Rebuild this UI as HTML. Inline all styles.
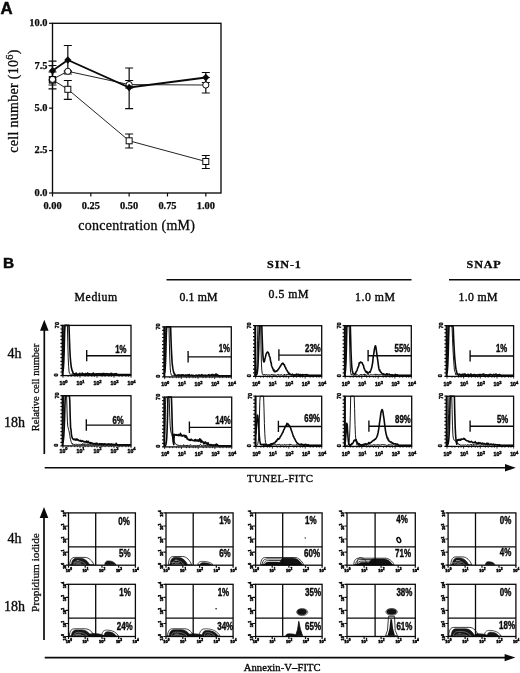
<!DOCTYPE html>
<html><head><meta charset="utf-8"><title>Figure</title>
<style>
html,body{margin:0;padding:0;background:#fff;}
svg{display:block;filter:blur(0.35px);}
text{fill:#0a0a0a;}
</style></head><body>
<svg width="520" height="673" viewBox="0 0 520 673">
<rect width="520" height="673" fill="#fff"/>
<g id="panelA">
<text x="0.6" y="13.5" font-family='"Liberation Sans", sans-serif' font-weight="bold" font-size="16.8" stroke="#0a0a0a" stroke-width="0.5">A</text>
<rect x="52.5" y="23.3" width="168.5" height="169.7" fill="none" stroke="#0a0a0a" stroke-width="1.35"/>
<line x1="49.0" y1="193.0" x2="52.5" y2="193.0" stroke="#0a0a0a" stroke-width="1.2"/>
<text x="47.5" y="195.9" text-anchor="end" font-family='"Liberation Serif", serif' font-weight="bold" font-size="10.4" stroke="#0a0a0a" stroke-width="0.25">0.0</text>
<line x1="49.0" y1="150.575" x2="52.5" y2="150.575" stroke="#0a0a0a" stroke-width="1.2"/>
<text x="47.5" y="153.475" text-anchor="end" font-family='"Liberation Serif", serif' font-weight="bold" font-size="10.4" stroke="#0a0a0a" stroke-width="0.25">2.5</text>
<line x1="49.0" y1="108.15" x2="52.5" y2="108.15" stroke="#0a0a0a" stroke-width="1.2"/>
<text x="47.5" y="111.05000000000001" text-anchor="end" font-family='"Liberation Serif", serif' font-weight="bold" font-size="10.4" stroke="#0a0a0a" stroke-width="0.25">5.0</text>
<line x1="49.0" y1="65.72500000000001" x2="52.5" y2="65.72500000000001" stroke="#0a0a0a" stroke-width="1.2"/>
<text x="47.5" y="68.62500000000001" text-anchor="end" font-family='"Liberation Serif", serif' font-weight="bold" font-size="10.4" stroke="#0a0a0a" stroke-width="0.25">7.5</text>
<line x1="49.0" y1="23.30000000000001" x2="52.5" y2="23.30000000000001" stroke="#0a0a0a" stroke-width="1.2"/>
<text x="47.5" y="26.20000000000001" text-anchor="end" font-family='"Liberation Serif", serif' font-weight="bold" font-size="10.4" stroke="#0a0a0a" stroke-width="0.25">10.0</text>
<line x1="52.5" y1="193" x2="52.5" y2="196.5" stroke="#0a0a0a" stroke-width="1.2"/>
<text x="52.5" y="209.4" text-anchor="middle" font-family='"Liberation Serif", serif' font-weight="bold" font-size="10.4" stroke="#0a0a0a" stroke-width="0.25">0.00</text>
<line x1="90.825" y1="193" x2="90.825" y2="196.5" stroke="#0a0a0a" stroke-width="1.2"/>
<text x="90.825" y="209.4" text-anchor="middle" font-family='"Liberation Serif", serif' font-weight="bold" font-size="10.4" stroke="#0a0a0a" stroke-width="0.25">0.25</text>
<line x1="129.15" y1="193" x2="129.15" y2="196.5" stroke="#0a0a0a" stroke-width="1.2"/>
<text x="129.15" y="209.4" text-anchor="middle" font-family='"Liberation Serif", serif' font-weight="bold" font-size="10.4" stroke="#0a0a0a" stroke-width="0.25">0.50</text>
<line x1="167.47500000000002" y1="193" x2="167.47500000000002" y2="196.5" stroke="#0a0a0a" stroke-width="1.2"/>
<text x="167.47500000000002" y="209.4" text-anchor="middle" font-family='"Liberation Serif", serif' font-weight="bold" font-size="10.4" stroke="#0a0a0a" stroke-width="0.25">0.75</text>
<line x1="205.8" y1="193" x2="205.8" y2="196.5" stroke="#0a0a0a" stroke-width="1.2"/>
<text x="205.8" y="209.4" text-anchor="middle" font-family='"Liberation Serif", serif' font-weight="bold" font-size="10.4" stroke="#0a0a0a" stroke-width="0.25">1.00</text>
<text x="136.8" y="230.2" text-anchor="middle" font-family='"Liberation Serif", serif' font-size="14" letter-spacing="0.25" stroke="#0a0a0a" stroke-width="0.3">concentration (mM)</text>
<text transform="translate(18.2,101) rotate(-90)" text-anchor="middle" font-family='"Liberation Serif", serif' font-size="14" letter-spacing="0.3" stroke="#0a0a0a" stroke-width="0.3">cell number (10<tspan dy="-5.5" font-size="10.4">6</tspan><tspan dy="5.5">)</tspan></text>
<path d="M52.5 61.2V80M48.5 61.2H56.5M48.5 80H56.5" stroke="#0a0a0a" stroke-width="1.2" fill="none"/>
<path d="M67.83 45.5V74M63.83 45.5H71.83M63.83 74H71.83" stroke="#0a0a0a" stroke-width="1.2" fill="none"/>
<path d="M129.15 68V108.7M125.15 68H133.15M125.15 108.7H133.15" stroke="#0a0a0a" stroke-width="1.2" fill="none"/>
<path d="M205.8 72.5V82.5M201.8 72.5H209.8M201.8 82.5H209.8" stroke="#0a0a0a" stroke-width="1.2" fill="none"/>
<path d="M52.5 65.5V88.8M48.5 65.5H56.5M48.5 88.8H56.5" stroke="#0a0a0a" stroke-width="1.2" fill="none"/>
<path d="M67.83 70.8V71.8M63.83 70.8H71.83M63.83 71.8H71.83" stroke="#0a0a0a" stroke-width="1.2" fill="none"/>
<path d="M129.15 80.5V88M125.15 80.5H133.15M125.15 88H133.15" stroke="#0a0a0a" stroke-width="1.2" fill="none"/>
<path d="M205.8 77.5V93M201.8 77.5H209.8M201.8 93H209.8" stroke="#0a0a0a" stroke-width="1.2" fill="none"/>
<path d="M52.5 72V85M48.5 72H56.5M48.5 85H56.5" stroke="#0a0a0a" stroke-width="1.2" fill="none"/>
<path d="M67.83 80.5V99.3M63.83 80.5H71.83M63.83 99.3H71.83" stroke="#0a0a0a" stroke-width="1.2" fill="none"/>
<path d="M129.15 134V148M125.15 134H133.15M125.15 148H133.15" stroke="#0a0a0a" stroke-width="1.2" fill="none"/>
<path d="M205.8 155.5V168.5M201.8 155.5H209.8M201.8 168.5H209.8" stroke="#0a0a0a" stroke-width="1.2" fill="none"/>
<path d="M52.5 79.8 L67.8 89.3 L129.2 140.8 L205.8 161.5" fill="none" stroke="#0a0a0a" stroke-width="0.9"/>
<path d="M52.5 79.3 L67.8 71.3 L129.2 84.6 L205.8 85" fill="none" stroke="#0a0a0a" stroke-width="0.9"/>
<path d="M52.5 70.8 L67.8 60 L129.2 87.5 L205.8 77.5" fill="none" stroke="#0a0a0a" stroke-width="1.9"/>
<rect x="49.5" y="76.8" width="6" height="6" fill="#fff" stroke="#0a0a0a" stroke-width="1"/>
<rect x="64.83" y="86.3" width="6" height="6" fill="#fff" stroke="#0a0a0a" stroke-width="1"/>
<rect x="126.15" y="137.8" width="6" height="6" fill="#fff" stroke="#0a0a0a" stroke-width="1"/>
<rect x="202.8" y="158.5" width="6" height="6" fill="#fff" stroke="#0a0a0a" stroke-width="1"/>
<circle cx="52.5" cy="79.3" r="3.1" fill="#fff" stroke="#0a0a0a" stroke-width="1"/>
<circle cx="67.83" cy="71.3" r="3.1" fill="#fff" stroke="#0a0a0a" stroke-width="1"/>
<circle cx="129.15" cy="84.6" r="3.1" fill="#fff" stroke="#0a0a0a" stroke-width="1"/>
<circle cx="205.8" cy="85" r="3.1" fill="#fff" stroke="#0a0a0a" stroke-width="1"/>
<rect x="49.3" y="76.6" width="6.4" height="6.4" fill="none" stroke="#0a0a0a" stroke-width="1"/>
<path d="M48.9 70.8L52.5 67.0L56.1 70.8L52.5 74.6Z" fill="#0a0a0a"/>
<path d="M64.23 60L67.83 56.2L71.42999999999999 60L67.83 63.8Z" fill="#0a0a0a"/>
<path d="M125.55000000000001 87.5L129.15 83.7L132.75 87.5L129.15 91.3Z" fill="#0a0a0a"/>
<path d="M202.20000000000002 77.5L205.8 73.7L209.4 77.5L205.8 81.3Z" fill="#0a0a0a"/>
</g>
<text x="3.0" y="268" font-family='"Liberation Sans", sans-serif' font-weight="bold" font-size="15.4" stroke="#0a0a0a" stroke-width="0.5">B</text>
<text x="267" y="267.8" textLength="34.8" lengthAdjust="spacingAndGlyphs" font-family='"Liberation Serif", serif' font-weight="bold" font-size="10.8" letter-spacing="0.8" stroke="#0a0a0a" stroke-width="0.3">SIN-1</text>
<text x="466.6" y="267.8" textLength="35" lengthAdjust="spacingAndGlyphs" font-family='"Liberation Serif", serif' font-weight="bold" font-size="10.8" letter-spacing="0.8" stroke="#0a0a0a" stroke-width="0.3">SNAP</text>
<line x1="166.5" y1="279.8" x2="411.5" y2="279.8" stroke="#0a0a0a" stroke-width="1.6"/>
<line x1="449" y1="279.8" x2="520" y2="279.8" stroke="#0a0a0a" stroke-width="1.6"/>
<text x="74.6" y="301.4" textLength="42.6" lengthAdjust="spacing" font-family='"Liberation Serif", serif' font-size="11.8" stroke="#0a0a0a" stroke-width="0.38">Medium</text>
<text x="179.4" y="301.4" textLength="38.1" lengthAdjust="spacing" font-family='"Liberation Serif", serif' font-size="11.8" stroke="#0a0a0a" stroke-width="0.38">0.1 mM</text>
<text x="268.5" y="297.8" textLength="40" lengthAdjust="spacing" font-family='"Liberation Serif", serif' font-size="11.8" stroke="#0a0a0a" stroke-width="0.38">0.5 mM</text>
<text x="355" y="301.4" textLength="40" lengthAdjust="spacing" font-family='"Liberation Serif", serif' font-size="11.8" stroke="#0a0a0a" stroke-width="0.38">1.0 mM</text>
<text x="458.5" y="301.4" textLength="39" lengthAdjust="spacing" font-family='"Liberation Serif", serif' font-size="11.8" stroke="#0a0a0a" stroke-width="0.38">1.0 mM</text>
<text x="21.4" y="358.0" text-anchor="end" font-family='"Liberation Serif", serif' font-size="14" stroke="#0a0a0a" stroke-width="0.35">4h</text>
<text x="25.0" y="426.6" text-anchor="end" font-family='"Liberation Serif", serif' font-size="14" stroke="#0a0a0a" stroke-width="0.35">18h</text>
<text x="21.4" y="543" text-anchor="end" font-family='"Liberation Serif", serif' font-size="14" stroke="#0a0a0a" stroke-width="0.35">4h</text>
<text x="25.0" y="610.7" text-anchor="end" font-family='"Liberation Serif", serif' font-size="14" stroke="#0a0a0a" stroke-width="0.35">18h</text>
<text transform="translate(39.3,387.5) rotate(-90)" text-anchor="middle" font-family='"Liberation Serif", serif' font-size="10.5" stroke="#0a0a0a" stroke-width="0.3">Relative cell number</text>
<text transform="translate(39,572.5) rotate(-90)" text-anchor="middle" font-family='"Liberation Serif", serif' font-size="11.3" stroke="#0a0a0a" stroke-width="0.3">Propidium iodide</text>
<line x1="44.3" y1="454" x2="44.3" y2="325.8" stroke="#0a0a0a" stroke-width="1.7"/>
<path d="M44.3 319.8L40.0 330.8L48.599999999999994 330.8Z" fill="#0a0a0a"/>
<line x1="44.0" y1="640" x2="44.0" y2="513" stroke="#0a0a0a" stroke-width="1.7"/>
<path d="M44.0 507L39.7 518L48.3 518Z" fill="#0a0a0a"/>
<line x1="44.7" y1="467.8" x2="509.79999999999995" y2="467.8" stroke="#0a0a0a" stroke-width="1.6"/>
<path d="M515.8 467.8L504.99999999999994 464.1L504.99999999999994 471.5Z" fill="#0a0a0a"/>
<line x1="44.7" y1="657.6" x2="509.4" y2="657.6" stroke="#0a0a0a" stroke-width="1.6"/>
<path d="M515.4 657.6L504.59999999999997 653.9L504.59999999999997 661.3000000000001Z" fill="#0a0a0a"/>
<text x="247" y="482.4" textLength="66" lengthAdjust="spacing" font-family='"Liberation Serif", serif' font-size="10.8" stroke="#0a0a0a" stroke-width="0.35">TUNEL-FITC</text>
<text x="243.7" y="671" textLength="77" lengthAdjust="spacing" font-family='"Liberation Serif", serif' font-size="10.6" stroke="#0a0a0a" stroke-width="0.35">Annexin-V–FITC</text>
<path d="M63.0 363.8 L63.4 352.5 L63.8 334.4 L64.2 325.4 L64.6 325.4 L65.0 325.4 L65.4 325.4 L65.8 325.4 L66.2 325.4 L66.6 325.4 L67.0 325.4 L67.4 325.4 L67.8 342.6 L68.2 357.6 L68.6 366.4 L69.0 371.2 L69.4 373.2 L69.8 373.6 L70.2 374.4 L70.6 373.9 L71.0 374.3 L71.4 374.0 L71.8 374.5 L72.2 374.4 L72.6 374.5 L73.0 373.6 L73.4 374.1 L73.8 374.3 L74.2 374.3 L74.6 373.6 L75.0 373.6 L75.4 374.1 L75.8 374.3 L76.2 374.4 L76.6 374.6 L77.0 374.3 L77.4 374.2 L77.8 374.4 L78.2 374.4 L78.6 374.2 L79.0 373.6 L79.4 374.3 L79.8 373.9 L80.2 374.2 L80.6 374.2 L81.0 374.4 L81.4 374.5 L81.8 374.2 L82.2 374.5 L82.6 374.3 L83.0 374.0 L83.4 374.3 L83.8 373.9 L84.2 374.1 L84.6 374.5 L85.0 374.3 L85.4 373.7 L85.8 374.6 L86.2 373.8 L86.6 373.4 L87.0 374.4 L87.4 374.5 L87.8 374.1 L88.2 374.3 L88.6 374.6 L89.0 373.7 L89.4 374.1 L89.8 374.2 L90.2 374.0 L90.6 373.7 L91.0 374.4 L91.4 374.5 L91.8 373.8 L92.2 374.2 L92.6 374.2 L93.0 374.3 L93.4 373.9 L93.8 374.0 L94.2 374.3 L94.6 373.8 L95.0 373.4 L95.4 373.7 L95.8 374.5 L96.2 373.7 L96.6 374.3 L97.0 373.5 L97.4 373.1 L97.8 374.4 L98.2 374.2 L98.6 373.9 L99.0 374.0 L99.4 373.9 L99.8 374.5 L100.2 374.5 L100.6 374.3 L101.0 373.7 L101.4 374.2 L101.8 374.3 L102.2 374.3 L102.6 373.7 L103.0 373.8 L103.4 374.0 L103.8 374.3 L104.2 373.4 L104.6 374.2 L105.0 374.1 L105.4 373.5 L105.8 374.5 L106.2 374.0 L106.6 373.8 L107.0 373.6 L107.4 374.3 L107.8 374.5 L108.2 374.4 L108.6 374.2 L109.0 374.5 L109.4 373.9 L109.8 374.2 L110.2 374.4 L110.6 374.0 L111.0 374.6 L111.4 374.1 L111.8 374.0 L112.2 373.7 L112.6 374.3 L113.0 373.8 L113.4 374.5 L113.8 374.5 L114.2 374.4 L114.6 373.8 L115.0 374.0 L115.4 373.9 L115.8 373.9 L116.2 374.1 L116.6 374.2 L117.0 373.9 L117.4 374.6 L117.8 374.6 L118.2 374.6 L118.6 374.6 L119.0 374.6 L119.4 374.6 L119.8 374.6 L120.2 374.6 L120.6 374.6 L121.0 374.6 L121.4 374.6 L121.8 374.6 L122.2 374.6 L122.6 374.6 L123.0 374.6 L123.4 374.6 L123.8 374.6 L124.2 374.6 L124.6 374.6 L125.0 374.6 L125.4 374.6 L125.8 374.6 L126.2 374.6 L126.6 374.6 L127.0 374.6 L127.4 374.6 L127.8 374.6 L128.2 374.6 L128.6 374.6 L129.0 374.6 L129.4 374.6 L129.8 374.6 L130.2 374.6 L130.6 374.6 L131.0 374.6" fill="none" stroke="#0a0a0a" stroke-width="0.95"/>
<path d="M63.0 371.5 L63.4 368.1 L63.8 361.6 L64.2 350.4 L64.6 332.9 L65.0 325.4 L65.4 325.4 L65.8 325.4 L66.2 325.4 L66.6 325.4 L67.0 325.4 L67.4 325.4 L67.8 325.4 L68.2 325.4 L68.6 325.4 L69.0 325.4 L69.4 337.7 L69.8 348.6 L70.2 356.3 L70.6 361.3 L71.0 364.8 L71.4 367.8 L71.8 369.3 L72.2 371.0 L72.6 371.2 L73.0 373.0 L73.4 373.5 L73.8 373.9 L74.2 374.3 L74.6 373.9 L75.0 374.3 L75.4 374.3 L75.8 373.5 L76.2 373.1 L76.6 373.9 L77.0 374.5 L77.4 374.4 L77.8 374.5 L78.2 374.3 L78.6 374.2 L79.0 374.4 L79.4 374.3 L79.8 373.2 L80.2 374.4 L80.6 374.3 L81.0 374.5 L81.4 374.5 L81.8 374.6 L82.2 373.0 L82.6 374.3 L83.0 374.0 L83.4 373.9 L83.8 374.6 L84.2 374.0 L84.6 374.1 L85.0 373.7 L85.4 373.6 L85.8 374.4 L86.2 374.4 L86.6 374.2 L87.0 374.0 L87.4 373.0 L87.8 374.0 L88.2 373.7 L88.6 374.2 L89.0 373.7 L89.4 374.5 L89.8 373.9 L90.2 374.5 L90.6 374.5 L91.0 374.1 L91.4 374.5 L91.8 374.5 L92.2 373.7 L92.6 374.0 L93.0 374.4 L93.4 373.0 L93.8 373.9 L94.2 374.1 L94.6 374.4 L95.0 374.5 L95.4 374.2 L95.8 374.5 L96.2 374.2 L96.6 373.7 L97.0 373.7 L97.4 374.2 L97.8 374.0 L98.2 374.0 L98.6 373.7 L99.0 373.9 L99.4 374.2 L99.8 373.7 L100.2 374.0 L100.6 374.6 L101.0 373.9 L101.4 374.1 L101.8 373.7 L102.2 374.1 L102.6 373.7 L103.0 374.0 L103.4 374.5 L103.8 373.4 L104.2 373.8 L104.6 374.5 L105.0 374.2 L105.4 374.4 L105.8 374.4 L106.2 373.7 L106.6 374.0 L107.0 373.9 L107.4 373.7 L107.8 373.7 L108.2 374.5 L108.6 374.2 L109.0 374.0 L109.4 374.5 L109.8 374.5 L110.2 373.8 L110.6 374.4 L111.0 373.2 L111.4 374.4 L111.8 373.5 L112.2 374.1 L112.6 374.4 L113.0 374.2 L113.4 374.6 L113.8 374.1 L114.2 374.6 L114.6 373.8 L115.0 374.6 L115.4 374.0 L115.8 373.7 L116.2 373.6 L116.6 374.2 L117.0 374.1 L117.4 374.6 L117.8 374.6 L118.2 374.6 L118.6 374.6 L119.0 374.6 L119.4 374.6 L119.8 374.6 L120.2 374.6 L120.6 374.6 L121.0 374.6 L121.4 374.6 L121.8 374.6 L122.2 374.6 L122.6 374.6 L123.0 374.6 L123.4 374.6 L123.8 374.6 L124.2 374.6 L124.6 374.6 L125.0 374.6 L125.4 374.6 L125.8 374.6 L126.2 374.6 L126.6 374.6 L127.0 374.6 L127.4 374.6 L127.8 374.6 L128.2 374.6 L128.6 374.6 L129.0 374.6 L129.4 374.6 L129.8 374.6 L130.2 374.6 L130.6 374.6 L131.0 374.6" fill="none" stroke="#0a0a0a" stroke-width="1.6" stroke-linejoin="round"/>
<rect x="63" y="325.4" width="68.0" height="50.2" fill="none" stroke="#0a0a0a" stroke-width="1.3"/>
<line x1="62.4" y1="325.4" x2="62.4" y2="375.6" stroke="#0a0a0a" stroke-width="1.6"/>
<path d="M60.4 325.4H63M60.4 329.0H63M60.4 332.6H63M60.4 336.2H63M60.4 339.7H63M60.4 343.3H63M60.4 346.9H63M60.4 350.5H63M60.4 354.1H63M60.4 357.7H63M60.4 361.3H63M60.4 364.8H63M60.4 368.4H63M60.4 372.0H63M60.4 375.6H63" stroke="#0a0a0a" stroke-width="1.2"/>
<text transform="translate(58.6,328.2) rotate(-90)" font-family='"Liberation Sans", sans-serif' font-weight="bold" font-size="5.6" stroke="#0a0a0a" stroke-width="0.45">70</text>
<text transform="translate(58.4,376.4) rotate(-90)" font-family='"Liberation Sans", sans-serif' font-weight="bold" font-size="5.6" stroke="#0a0a0a" stroke-width="0.45">0</text>
<text x="63.6" y="385.0" text-anchor="middle" font-family='"Liberation Sans", sans-serif' font-weight="bold" font-size="5.2" stroke="#0a0a0a" stroke-width="0.45">10<tspan dy="-2.3" font-size="4">0</tspan></text>
<text x="80.6" y="385.0" text-anchor="middle" font-family='"Liberation Sans", sans-serif' font-weight="bold" font-size="5.2" stroke="#0a0a0a" stroke-width="0.45">10<tspan dy="-2.3" font-size="4">1</tspan></text>
<text x="97.6" y="385.0" text-anchor="middle" font-family='"Liberation Sans", sans-serif' font-weight="bold" font-size="5.2" stroke="#0a0a0a" stroke-width="0.45">10<tspan dy="-2.3" font-size="4">2</tspan></text>
<text x="114.6" y="385.0" text-anchor="middle" font-family='"Liberation Sans", sans-serif' font-weight="bold" font-size="5.2" stroke="#0a0a0a" stroke-width="0.45">10<tspan dy="-2.3" font-size="4">3</tspan></text>
<text x="131.6" y="385.0" text-anchor="middle" font-family='"Liberation Sans", sans-serif' font-weight="bold" font-size="5.2" stroke="#0a0a0a" stroke-width="0.45">10<tspan dy="-2.3" font-size="4">4</tspan></text>
<path d="M63.0 375.6V377.8M68.1 375.6V376.9M71.1 375.6V376.9M74.9 375.6V376.9M77.4 375.6V376.9M80.0 375.6V377.8M85.1 375.6V376.9M88.1 375.6V376.9M91.9 375.6V376.9M94.4 375.6V376.9M97.0 375.6V377.8M102.1 375.6V376.9M105.1 375.6V376.9M108.9 375.6V376.9M111.4 375.6V376.9M114.0 375.6V377.8M119.1 375.6V376.9M122.1 375.6V376.9M125.9 375.6V376.9M128.4 375.6V376.9M131.0 375.6V377.8" stroke="#0a0a0a" stroke-width="0.8"/>
<path d="M86.7 349.9V361.3M86.7 355.7H131" stroke="#0a0a0a" stroke-width="1.35" fill="none"/>
<text transform="translate(126.4,352.7) scale(0.78,1)" text-anchor="end" font-family='"Liberation Sans", sans-serif' font-weight="bold" font-size="10" stroke="#0a0a0a" stroke-width="0.4">1%</text>
<path d="M63.0 424.8 L63.4 404.1 L63.8 395.7 L64.2 395.7 L64.6 395.7 L65.0 395.7 L65.4 395.7 L65.8 395.7 L66.2 395.7 L66.6 395.7 L67.0 409.6 L67.4 421.2 L67.8 426.6 L68.2 427.8 L68.6 429.8 L69.0 430.8 L69.4 433.2 L69.8 435.2 L70.2 438.0 L70.6 439.8 L71.0 441.4 L71.4 442.3 L71.8 443.4 L72.2 443.0 L72.6 444.4 L73.0 444.4 L73.4 444.2 L73.8 444.7 L74.2 444.1 L74.6 444.6 L75.0 444.3 L75.4 443.9 L75.8 444.5 L76.2 444.3 L76.6 444.4 L77.0 444.9 L77.4 444.4 L77.8 444.8 L78.2 444.2 L78.6 444.0 L79.0 444.5 L79.4 444.4 L79.8 444.6 L80.2 444.4 L80.6 444.4 L81.0 444.0 L81.4 444.8 L81.8 444.2 L82.2 444.7 L82.6 443.5 L83.0 444.7 L83.4 444.5 L83.8 443.8 L84.2 444.5 L84.6 444.7 L85.0 443.6 L85.4 444.4 L85.8 444.7 L86.2 444.6 L86.6 444.4 L87.0 444.5 L87.4 444.5 L87.8 444.7 L88.2 444.1 L88.6 444.5 L89.0 444.6 L89.4 443.7 L89.8 444.4 L90.2 444.1 L90.6 444.7 L91.0 444.6 L91.4 443.8 L91.8 443.9 L92.2 444.6 L92.6 443.5 L93.0 444.4 L93.4 444.5 L93.8 443.8 L94.2 444.8 L94.6 444.6 L95.0 444.4 L95.4 444.4 L95.8 444.8 L96.2 444.7 L96.6 444.4 L97.0 444.9 L97.4 444.8 L97.8 444.3 L98.2 444.7 L98.6 444.4 L99.0 444.8 L99.4 444.4 L99.8 444.4 L100.2 443.3 L100.6 444.2 L101.0 444.5 L101.4 443.4 L101.8 444.5 L102.2 444.6 L102.6 443.9 L103.0 444.6 L103.4 444.9 L103.8 444.6 L104.2 443.8 L104.6 444.3 L105.0 444.7 L105.4 444.5 L105.8 444.1 L106.2 443.8 L106.6 444.1 L107.0 444.5 L107.4 444.7 L107.8 444.8 L108.2 444.7 L108.6 444.3 L109.0 443.6 L109.4 444.3 L109.8 444.2 L110.2 444.1 L110.6 443.9 L111.0 444.3 L111.4 443.8 L111.8 444.4 L112.2 444.4 L112.6 444.7 L113.0 443.6 L113.4 444.5 L113.8 444.9 L114.2 444.6 L114.6 444.5 L115.0 444.8 L115.4 444.6 L115.8 444.7 L116.2 444.5 L116.6 444.8 L117.0 444.7 L117.4 444.9 L117.8 444.9 L118.2 444.9 L118.6 444.9 L119.0 444.9 L119.4 444.9 L119.8 444.9 L120.2 444.9 L120.6 444.9 L121.0 444.9 L121.4 444.9 L121.8 444.9 L122.2 444.9 L122.6 444.9 L123.0 444.9 L123.4 444.9 L123.8 444.9 L124.2 444.9 L124.6 444.9 L125.0 444.9 L125.4 444.9 L125.8 444.9 L126.2 444.9 L126.6 444.9 L127.0 444.9 L127.4 444.9 L127.8 444.9 L128.2 444.9 L128.6 444.9 L129.0 444.9 L129.4 444.9 L129.8 444.9 L130.2 444.9 L130.6 444.9 L131.0 444.9" fill="none" stroke="#0a0a0a" stroke-width="0.95"/>
<path d="M63.0 442.6 L63.4 440.2 L63.8 435.9 L64.2 428.8 L64.6 417.9 L65.0 402.6 L65.4 395.7 L65.8 395.7 L66.2 395.7 L66.6 395.7 L67.0 395.7 L67.4 395.7 L67.8 395.7 L68.2 395.7 L68.6 395.7 L69.0 395.7 L69.4 395.7 L69.8 400.9 L70.2 416.5 L70.6 427.8 L71.0 429.5 L71.4 434.1 L71.8 436.7 L72.2 437.5 L72.6 438.7 L73.0 438.7 L73.4 439.3 L73.8 439.6 L74.2 439.6 L74.6 439.4 L75.0 438.9 L75.4 440.1 L75.8 439.7 L76.2 439.9 L76.6 439.8 L77.0 438.9 L77.4 440.0 L77.8 439.7 L78.2 440.5 L78.6 440.0 L79.0 440.5 L79.4 440.7 L79.8 440.8 L80.2 441.1 L80.6 440.4 L81.0 441.0 L81.4 441.5 L81.8 441.2 L82.2 440.7 L82.6 441.2 L83.0 441.2 L83.4 441.3 L83.8 441.9 L84.2 441.6 L84.6 442.0 L85.0 441.6 L85.4 442.0 L85.8 441.9 L86.2 442.3 L86.6 441.0 L87.0 441.9 L87.4 442.6 L87.8 442.7 L88.2 441.3 L88.6 442.7 L89.0 442.5 L89.4 442.5 L89.8 443.2 L90.2 442.5 L90.6 443.2 L91.0 443.2 L91.4 442.8 L91.8 443.1 L92.2 443.6 L92.6 443.2 L93.0 443.4 L93.4 443.7 L93.8 443.8 L94.2 443.8 L94.6 443.6 L95.0 443.4 L95.4 443.7 L95.8 444.2 L96.2 443.4 L96.6 444.0 L97.0 443.2 L97.4 444.0 L97.8 444.1 L98.2 444.2 L98.6 444.5 L99.0 444.5 L99.4 443.8 L99.8 443.6 L100.2 444.4 L100.6 444.1 L101.0 444.3 L101.4 444.7 L101.8 443.8 L102.2 444.4 L102.6 444.3 L103.0 443.8 L103.4 444.9 L103.8 444.5 L104.2 443.9 L104.6 443.8 L105.0 444.3 L105.4 444.5 L105.8 444.1 L106.2 444.9 L106.6 444.8 L107.0 444.5 L107.4 444.5 L107.8 444.0 L108.2 444.2 L108.6 444.1 L109.0 444.6 L109.4 444.3 L109.8 444.3 L110.2 444.9 L110.6 444.9 L111.0 444.6 L111.4 444.0 L111.8 444.2 L112.2 444.9 L112.6 444.8 L113.0 444.7 L113.4 444.9 L113.8 444.5 L114.2 444.5 L114.6 444.7 L115.0 444.8 L115.4 444.5 L115.8 444.8 L116.2 443.3 L116.6 444.3 L117.0 444.9 L117.4 444.9 L117.8 444.9 L118.2 444.9 L118.6 444.9 L119.0 444.9 L119.4 444.9 L119.8 444.9 L120.2 444.9 L120.6 444.9 L121.0 444.9 L121.4 444.9 L121.8 444.9 L122.2 444.9 L122.6 444.9 L123.0 444.9 L123.4 444.9 L123.8 444.9 L124.2 444.9 L124.6 444.9 L125.0 444.9 L125.4 444.9 L125.8 444.9 L126.2 444.9 L126.6 444.9 L127.0 444.9 L127.4 444.9 L127.8 444.9 L128.2 444.9 L128.6 444.9 L129.0 444.9 L129.4 444.9 L129.8 444.9 L130.2 444.9 L130.6 444.9 L131.0 444.9" fill="none" stroke="#0a0a0a" stroke-width="1.6" stroke-linejoin="round"/>
<rect x="63" y="395.7" width="68.0" height="50.2" fill="none" stroke="#0a0a0a" stroke-width="1.3"/>
<line x1="62.4" y1="395.7" x2="62.4" y2="445.9" stroke="#0a0a0a" stroke-width="1.6"/>
<path d="M60.4 395.7H63M60.4 399.3H63M60.4 402.9H63M60.4 406.5H63M60.4 410.0H63M60.4 413.6H63M60.4 417.2H63M60.4 420.8H63M60.4 424.4H63M60.4 428.0H63M60.4 431.6H63M60.4 435.1H63M60.4 438.7H63M60.4 442.3H63M60.4 445.9H63" stroke="#0a0a0a" stroke-width="1.2"/>
<text transform="translate(58.6,398.5) rotate(-90)" font-family='"Liberation Sans", sans-serif' font-weight="bold" font-size="5.6" stroke="#0a0a0a" stroke-width="0.45">70</text>
<text transform="translate(58.4,446.7) rotate(-90)" font-family='"Liberation Sans", sans-serif' font-weight="bold" font-size="5.6" stroke="#0a0a0a" stroke-width="0.45">0</text>
<text x="63.6" y="452.7" text-anchor="middle" font-family='"Liberation Sans", sans-serif' font-weight="bold" font-size="5.2" stroke="#0a0a0a" stroke-width="0.45">10<tspan dy="-2.3" font-size="4">0</tspan></text>
<text x="80.6" y="452.7" text-anchor="middle" font-family='"Liberation Sans", sans-serif' font-weight="bold" font-size="5.2" stroke="#0a0a0a" stroke-width="0.45">10<tspan dy="-2.3" font-size="4">1</tspan></text>
<text x="97.6" y="452.7" text-anchor="middle" font-family='"Liberation Sans", sans-serif' font-weight="bold" font-size="5.2" stroke="#0a0a0a" stroke-width="0.45">10<tspan dy="-2.3" font-size="4">2</tspan></text>
<text x="114.6" y="452.7" text-anchor="middle" font-family='"Liberation Sans", sans-serif' font-weight="bold" font-size="5.2" stroke="#0a0a0a" stroke-width="0.45">10<tspan dy="-2.3" font-size="4">3</tspan></text>
<text x="131.6" y="452.7" text-anchor="middle" font-family='"Liberation Sans", sans-serif' font-weight="bold" font-size="5.2" stroke="#0a0a0a" stroke-width="0.45">10<tspan dy="-2.3" font-size="4">4</tspan></text>
<path d="M63.0 445.9V448.1M68.1 445.9V447.2M71.1 445.9V447.2M74.9 445.9V447.2M77.4 445.9V447.2M80.0 445.9V448.1M85.1 445.9V447.2M88.1 445.9V447.2M91.9 445.9V447.2M94.4 445.9V447.2M97.0 445.9V448.1M102.1 445.9V447.2M105.1 445.9V447.2M108.9 445.9V447.2M111.4 445.9V447.2M114.0 445.9V448.1M119.1 445.9V447.2M122.1 445.9V447.2M125.9 445.9V447.2M128.4 445.9V447.2M131.0 445.9V448.1" stroke="#0a0a0a" stroke-width="0.8"/>
<path d="M86.3 419.3V430.7M86.3 425.1H131" stroke="#0a0a0a" stroke-width="1.35" fill="none"/>
<text transform="translate(123.8,424.0) scale(0.78,1)" text-anchor="end" font-family='"Liberation Sans", sans-serif' font-weight="bold" font-size="10" stroke="#0a0a0a" stroke-width="0.4">6%</text>
<path d="M164.7 365.1 L165.1 353.9 L165.5 335.8 L165.9 326.8 L166.3 326.8 L166.7 326.8 L167.1 326.8 L167.4 326.8 L167.8 326.8 L168.2 326.8 L168.6 326.8 L169.0 326.8 L169.4 343.9 L169.8 358.2 L170.2 367.9 L170.6 372.5 L171.0 373.9 L171.4 375.3 L171.8 375.6 L172.1 375.6 L172.5 375.5 L172.9 375.9 L173.3 375.4 L173.7 375.8 L174.1 375.9 L174.5 375.5 L174.9 375.7 L175.3 375.5 L175.7 375.1 L176.1 375.7 L176.5 375.5 L176.8 375.2 L177.2 375.8 L177.6 375.6 L178.0 375.8 L178.4 375.6 L178.8 375.7 L179.2 374.5 L179.6 375.7 L180.0 375.3 L180.4 375.8 L180.8 375.2 L181.2 374.5 L181.5 375.5 L181.9 375.8 L182.3 375.5 L182.7 374.5 L183.1 375.7 L183.5 375.1 L183.9 375.4 L184.3 375.3 L184.7 375.6 L185.1 375.8 L185.5 375.6 L185.9 375.3 L186.2 375.2 L186.6 375.3 L187.0 375.8 L187.4 374.7 L187.8 375.8 L188.2 375.9 L188.6 375.2 L189.0 375.9 L189.4 375.4 L189.8 375.7 L190.2 375.6 L190.6 375.5 L190.9 375.4 L191.3 374.9 L191.7 374.9 L192.1 375.9 L192.5 375.7 L192.9 375.6 L193.3 375.1 L193.7 375.5 L194.1 375.5 L194.5 375.6 L194.9 375.5 L195.3 375.5 L195.6 375.1 L196.0 375.9 L196.4 375.5 L196.8 375.4 L197.2 375.9 L197.6 375.7 L198.0 375.0 L198.4 375.2 L198.8 375.6 L199.2 374.6 L199.6 375.9 L200.0 375.4 L200.4 375.5 L200.7 375.9 L201.1 374.9 L201.5 374.8 L201.9 375.1 L202.3 375.2 L202.7 375.0 L203.1 374.9 L203.5 375.2 L203.9 375.6 L204.3 375.9 L204.7 375.7 L205.1 375.8 L205.4 375.3 L205.8 375.9 L206.2 375.1 L206.6 375.9 L207.0 375.7 L207.4 375.6 L207.8 375.8 L208.2 375.4 L208.6 375.8 L209.0 375.6 L209.4 375.0 L209.8 375.4 L210.1 375.8 L210.5 375.6 L210.9 375.5 L211.3 375.3 L211.7 375.7 L212.1 375.7 L212.5 375.6 L212.9 375.6 L213.3 374.7 L213.7 375.5 L214.1 375.9 L214.5 374.3 L214.8 374.8 L215.2 375.6 L215.6 375.8 L216.0 375.8 L216.4 375.7 L216.8 375.8 L217.2 375.7 L217.6 375.9 L218.0 375.9 L218.4 375.9 L218.8 375.9 L219.2 375.9 L219.5 375.9 L219.9 375.9 L220.3 375.9 L220.7 375.9 L221.1 375.9 L221.5 375.9 L221.9 375.9 L222.3 375.9 L222.7 375.9 L223.1 375.9 L223.5 375.9 L223.9 375.9 L224.2 375.9 L224.6 375.9 L225.0 375.9 L225.4 375.9 L225.8 375.9 L226.2 375.9 L226.6 375.9 L227.0 375.9 L227.4 375.9 L227.8 375.9 L228.2 375.9 L228.6 375.9 L228.9 375.9 L229.3 375.9 L229.7 375.9 L230.1 375.9 L230.5 375.9 L230.9 375.9 L231.3 375.9" fill="none" stroke="#0a0a0a" stroke-width="0.95"/>
<path d="M164.7 372.8 L165.1 369.4 L165.5 362.9 L165.9 351.7 L166.3 334.3 L166.7 326.8 L167.1 326.8 L167.4 326.8 L167.8 326.8 L168.2 326.8 L168.6 326.8 L169.0 326.8 L169.4 326.8 L169.8 326.8 L170.2 326.8 L170.6 326.8 L171.0 339.1 L171.4 349.7 L171.8 357.1 L172.1 362.4 L172.5 366.0 L172.9 368.7 L173.3 370.7 L173.7 372.4 L174.1 373.4 L174.5 374.5 L174.9 374.2 L175.3 375.4 L175.7 375.4 L176.1 375.4 L176.5 375.8 L176.8 375.4 L177.2 375.4 L177.6 375.5 L178.0 374.8 L178.4 375.6 L178.8 375.8 L179.2 375.8 L179.6 375.0 L180.0 375.7 L180.4 375.4 L180.8 375.5 L181.2 375.9 L181.5 375.9 L181.9 374.9 L182.3 375.1 L182.7 375.4 L183.1 374.9 L183.5 375.5 L183.9 375.8 L184.3 375.6 L184.7 375.7 L185.1 375.0 L185.5 375.8 L185.9 375.0 L186.2 375.6 L186.6 375.3 L187.0 375.1 L187.4 375.2 L187.8 375.7 L188.2 374.9 L188.6 375.6 L189.0 375.8 L189.4 374.6 L189.8 375.6 L190.2 375.5 L190.6 375.6 L190.9 375.6 L191.3 375.3 L191.7 375.2 L192.1 375.7 L192.5 375.8 L192.9 375.1 L193.3 375.8 L193.7 375.6 L194.1 375.6 L194.5 375.8 L194.9 375.8 L195.3 375.7 L195.6 375.3 L196.0 375.1 L196.4 375.7 L196.8 375.4 L197.2 375.5 L197.6 375.9 L198.0 375.5 L198.4 375.0 L198.8 375.7 L199.2 375.9 L199.6 375.8 L200.0 375.0 L200.4 375.9 L200.7 375.5 L201.1 375.7 L201.5 375.2 L201.9 374.7 L202.3 375.9 L202.7 375.7 L203.1 375.6 L203.5 375.4 L203.9 375.7 L204.3 375.5 L204.7 375.6 L205.1 375.0 L205.4 375.5 L205.8 375.9 L206.2 375.4 L206.6 375.8 L207.0 375.7 L207.4 375.5 L207.8 375.7 L208.2 374.9 L208.6 375.5 L209.0 374.5 L209.4 375.5 L209.8 375.9 L210.1 375.8 L210.5 375.3 L210.9 375.2 L211.3 374.7 L211.7 375.5 L212.1 375.4 L212.5 375.5 L212.9 374.4 L213.3 375.8 L213.7 375.8 L214.1 375.4 L214.5 375.7 L214.8 374.9 L215.2 375.2 L215.6 375.7 L216.0 373.9 L216.4 375.4 L216.8 375.7 L217.2 375.4 L217.6 374.6 L218.0 375.9 L218.4 375.9 L218.8 375.9 L219.2 375.9 L219.5 375.9 L219.9 375.9 L220.3 375.9 L220.7 375.9 L221.1 375.9 L221.5 375.9 L221.9 375.9 L222.3 375.9 L222.7 375.9 L223.1 375.9 L223.5 375.9 L223.9 375.9 L224.2 375.9 L224.6 375.9 L225.0 375.9 L225.4 375.9 L225.8 375.9 L226.2 375.9 L226.6 375.9 L227.0 375.9 L227.4 375.9 L227.8 375.9 L228.2 375.9 L228.6 375.9 L228.9 375.9 L229.3 375.9 L229.7 375.9 L230.1 375.9 L230.5 375.9 L230.9 375.9 L231.3 375.9" fill="none" stroke="#0a0a0a" stroke-width="1.6" stroke-linejoin="round"/>
<rect x="164.7" y="326.8" width="66.6" height="50.1" fill="none" stroke="#0a0a0a" stroke-width="1.3"/>
<line x1="164.1" y1="326.8" x2="164.1" y2="376.9" stroke="#0a0a0a" stroke-width="1.6"/>
<path d="M162.1 326.8H164.7M162.1 330.4H164.7M162.1 334.0H164.7M162.1 337.5H164.7M162.1 341.1H164.7M162.1 344.7H164.7M162.1 348.3H164.7M162.1 351.9H164.7M162.1 355.4H164.7M162.1 359.0H164.7M162.1 362.6H164.7M162.1 366.2H164.7M162.1 369.7H164.7M162.1 373.3H164.7M162.1 376.9H164.7" stroke="#0a0a0a" stroke-width="1.2"/>
<text transform="translate(160.3,329.6) rotate(-90)" font-family='"Liberation Sans", sans-serif' font-weight="bold" font-size="5.6" stroke="#0a0a0a" stroke-width="0.45">70</text>
<text transform="translate(160.1,377.7) rotate(-90)" font-family='"Liberation Sans", sans-serif' font-weight="bold" font-size="5.6" stroke="#0a0a0a" stroke-width="0.45">0</text>
<text x="165.3" y="386.3" text-anchor="middle" font-family='"Liberation Sans", sans-serif' font-weight="bold" font-size="5.2" stroke="#0a0a0a" stroke-width="0.45">10<tspan dy="-2.3" font-size="4">0</tspan></text>
<text x="181.9" y="386.3" text-anchor="middle" font-family='"Liberation Sans", sans-serif' font-weight="bold" font-size="5.2" stroke="#0a0a0a" stroke-width="0.45">10<tspan dy="-2.3" font-size="4">1</tspan></text>
<text x="198.6" y="386.3" text-anchor="middle" font-family='"Liberation Sans", sans-serif' font-weight="bold" font-size="5.2" stroke="#0a0a0a" stroke-width="0.45">10<tspan dy="-2.3" font-size="4">2</tspan></text>
<text x="215.2" y="386.3" text-anchor="middle" font-family='"Liberation Sans", sans-serif' font-weight="bold" font-size="5.2" stroke="#0a0a0a" stroke-width="0.45">10<tspan dy="-2.3" font-size="4">3</tspan></text>
<text x="231.9" y="386.3" text-anchor="middle" font-family='"Liberation Sans", sans-serif' font-weight="bold" font-size="5.2" stroke="#0a0a0a" stroke-width="0.45">10<tspan dy="-2.3" font-size="4">4</tspan></text>
<path d="M164.7 376.9V379.1M169.7 376.9V378.2M172.6 376.9V378.2M176.3 376.9V378.2M178.8 376.9V378.2M181.3 376.9V379.1M186.4 376.9V378.2M189.3 376.9V378.2M193.0 376.9V378.2M195.4 376.9V378.2M198.0 376.9V379.1M203.0 376.9V378.2M205.9 376.9V378.2M209.6 376.9V378.2M212.1 376.9V378.2M214.7 376.9V379.1M219.7 376.9V378.2M222.6 376.9V378.2M226.3 376.9V378.2M228.7 376.9V378.2M231.3 376.9V379.1" stroke="#0a0a0a" stroke-width="0.8"/>
<path d="M188.1 351.1V362.5M188.1 356.9H231.3" stroke="#0a0a0a" stroke-width="1.35" fill="none"/>
<text transform="translate(229.9,352.4) scale(0.78,1)" text-anchor="end" font-family='"Liberation Sans", sans-serif' font-weight="bold" font-size="10" stroke="#0a0a0a" stroke-width="0.4">1%</text>
<path d="M164.7 434.4 L165.1 422.9 L165.5 404.5 L165.9 397.1 L166.3 397.1 L166.7 397.1 L167.1 397.1 L167.5 397.1 L167.9 397.1 L168.2 397.1 L168.6 397.1 L169.0 397.1 L169.4 403.1 L169.8 417.5 L170.2 425.8 L170.6 430.1 L171.0 432.2 L171.4 433.6 L171.8 434.6 L172.2 436.0 L172.6 437.0 L173.0 438.1 L173.4 438.8 L173.8 440.2 L174.2 441.4 L174.6 442.1 L174.9 443.1 L175.3 443.2 L175.7 443.6 L176.1 444.6 L176.5 444.6 L176.9 444.8 L177.3 445.4 L177.7 444.8 L178.1 444.8 L178.5 445.6 L178.9 445.3 L179.3 445.8 L179.7 445.8 L180.1 445.0 L180.5 445.3 L180.9 445.9 L181.3 445.7 L181.6 445.7 L182.0 445.9 L182.4 445.5 L182.8 445.7 L183.2 445.9 L183.6 444.6 L184.0 445.7 L184.4 445.5 L184.8 445.1 L185.2 445.7 L185.6 445.8 L186.0 445.0 L186.4 445.7 L186.8 445.5 L187.2 444.9 L187.6 445.9 L188.0 445.2 L188.3 445.5 L188.7 445.8 L189.1 445.9 L189.5 445.8 L189.9 445.2 L190.3 444.5 L190.7 445.5 L191.1 445.6 L191.5 445.6 L191.9 445.3 L192.3 445.6 L192.7 445.6 L193.1 445.7 L193.5 445.6 L193.9 445.0 L194.3 445.5 L194.7 445.0 L195.0 445.5 L195.4 445.6 L195.8 445.7 L196.2 445.4 L196.6 445.9 L197.0 445.7 L197.4 445.6 L197.8 445.0 L198.2 445.9 L198.6 445.7 L199.0 445.2 L199.4 445.7 L199.8 445.1 L200.2 444.4 L200.6 444.6 L201.0 444.7 L201.4 445.9 L201.7 445.7 L202.1 445.3 L202.5 445.5 L202.9 445.7 L203.3 445.3 L203.7 445.8 L204.1 445.3 L204.5 445.3 L204.9 445.3 L205.3 445.9 L205.7 444.8 L206.1 445.7 L206.5 445.6 L206.9 445.6 L207.3 445.5 L207.7 445.4 L208.1 445.7 L208.4 445.9 L208.8 445.5 L209.2 445.9 L209.6 445.5 L210.0 445.2 L210.4 444.9 L210.8 445.4 L211.2 445.7 L211.6 444.4 L212.0 444.8 L212.4 445.5 L212.8 445.9 L213.2 445.6 L213.6 445.1 L214.0 445.6 L214.4 445.9 L214.8 444.8 L215.1 445.7 L215.5 445.2 L215.9 444.8 L216.3 445.4 L216.7 445.8 L217.1 445.6 L217.5 445.6 L217.9 445.1 L218.3 445.9 L218.7 445.9 L219.1 445.9 L219.5 445.9 L219.9 445.9 L220.3 445.9 L220.7 445.9 L221.1 445.9 L221.5 445.9 L221.8 445.9 L222.2 445.9 L222.6 445.9 L223.0 445.9 L223.4 445.9 L223.8 445.9 L224.2 445.9 L224.6 445.9 L225.0 445.9 L225.4 445.9 L225.8 445.9 L226.2 445.9 L226.6 445.9 L227.0 445.9 L227.4 445.9 L227.8 445.9 L228.2 445.9 L228.5 445.9 L228.9 445.9 L229.3 445.9 L229.7 445.9 L230.1 445.9 L230.5 445.9 L230.9 445.9 L231.3 445.9 L231.7 445.9" fill="none" stroke="#0a0a0a" stroke-width="0.95"/>
<path d="M164.7 445.9 L165.1 445.7 L165.5 445.4 L165.9 444.5 L166.3 442.5 L166.7 438.3 L167.1 430.3 L167.5 417.1 L167.9 397.7 L168.2 397.1 L168.6 397.1 L169.0 397.1 L169.4 397.1 L169.8 397.1 L170.2 397.1 L170.6 397.1 L171.0 397.1 L171.4 397.1 L171.8 408.1 L172.2 423.5 L172.6 434.6 L173.0 440.7 L173.4 443.1 L173.8 444.6 L174.2 434.3 L174.6 434.7 L174.9 434.5 L175.3 435.1 L175.7 434.9 L176.1 435.1 L176.5 435.1 L176.9 434.6 L177.3 435.2 L177.7 435.4 L178.1 435.5 L178.5 434.5 L178.9 435.6 L179.3 434.6 L179.7 435.2 L180.1 435.5 L180.5 433.4 L180.9 435.7 L181.3 435.5 L181.6 435.0 L182.0 436.0 L182.4 435.9 L182.8 436.1 L183.2 435.4 L183.6 435.6 L184.0 435.2 L184.4 435.9 L184.8 435.6 L185.2 437.3 L185.6 436.3 L186.0 435.7 L186.4 437.6 L186.8 436.9 L187.2 439.0 L187.6 438.7 L188.0 438.9 L188.3 439.6 L188.7 439.6 L189.1 440.1 L189.5 439.7 L189.9 439.5 L190.3 440.5 L190.7 439.7 L191.1 439.2 L191.5 439.6 L191.9 440.2 L192.3 440.0 L192.7 440.4 L193.1 440.3 L193.5 440.6 L193.9 440.6 L194.3 440.7 L194.7 439.9 L195.0 440.9 L195.4 439.6 L195.8 440.8 L196.2 440.9 L196.6 440.0 L197.0 440.1 L197.4 440.9 L197.8 440.8 L198.2 439.9 L198.6 441.0 L199.0 441.3 L199.4 440.7 L199.8 438.7 L200.2 440.2 L200.6 439.4 L201.0 442.4 L201.4 441.3 L201.7 440.4 L202.1 441.5 L202.5 441.9 L202.9 441.9 L203.3 442.2 L203.7 443.7 L204.1 442.5 L204.5 443.5 L204.9 443.0 L205.3 441.9 L205.7 443.0 L206.1 442.7 L206.5 443.3 L206.9 444.1 L207.3 443.6 L207.7 444.8 L208.1 442.7 L208.4 444.8 L208.8 444.5 L209.2 444.5 L209.6 444.7 L210.0 445.2 L210.4 445.0 L210.8 444.6 L211.2 444.6 L211.6 445.3 L212.0 445.3 L212.4 445.0 L212.8 445.3 L213.2 445.9 L213.6 444.9 L214.0 445.4 L214.4 445.1 L214.8 444.9 L215.1 444.7 L215.5 445.6 L215.9 445.5 L216.3 444.1 L216.7 445.4 L217.1 444.9 L217.5 444.6 L217.9 445.8 L218.3 445.9 L218.7 445.9 L219.1 445.9 L219.5 445.9 L219.9 445.9 L220.3 445.9 L220.7 445.9 L221.1 445.9 L221.5 445.9 L221.8 445.9 L222.2 445.9 L222.6 445.9 L223.0 445.9 L223.4 445.9 L223.8 445.9 L224.2 445.9 L224.6 445.9 L225.0 445.9 L225.4 445.9 L225.8 445.9 L226.2 445.9 L226.6 445.9 L227.0 445.9 L227.4 445.9 L227.8 445.9 L228.2 445.9 L228.5 445.9 L228.9 445.9 L229.3 445.9 L229.7 445.9 L230.1 445.9 L230.5 445.9 L230.9 445.9 L231.3 445.9 L231.7 445.9" fill="none" stroke="#0a0a0a" stroke-width="1.6" stroke-linejoin="round"/>
<rect x="164.7" y="397.1" width="67.0" height="49.8" fill="none" stroke="#0a0a0a" stroke-width="1.3"/>
<line x1="164.1" y1="397.1" x2="164.1" y2="446.9" stroke="#0a0a0a" stroke-width="1.6"/>
<path d="M162.1 397.1H164.7M162.1 400.7H164.7M162.1 404.2H164.7M162.1 407.8H164.7M162.1 411.3H164.7M162.1 414.9H164.7M162.1 418.4H164.7M162.1 422.0H164.7M162.1 425.6H164.7M162.1 429.1H164.7M162.1 432.7H164.7M162.1 436.2H164.7M162.1 439.8H164.7M162.1 443.3H164.7M162.1 446.9H164.7" stroke="#0a0a0a" stroke-width="1.2"/>
<text transform="translate(160.3,399.9) rotate(-90)" font-family='"Liberation Sans", sans-serif' font-weight="bold" font-size="5.6" stroke="#0a0a0a" stroke-width="0.45">70</text>
<text transform="translate(160.1,447.7) rotate(-90)" font-family='"Liberation Sans", sans-serif' font-weight="bold" font-size="5.6" stroke="#0a0a0a" stroke-width="0.45">0</text>
<text x="165.3" y="456.3" text-anchor="middle" font-family='"Liberation Sans", sans-serif' font-weight="bold" font-size="5.2" stroke="#0a0a0a" stroke-width="0.45">10<tspan dy="-2.3" font-size="4">0</tspan></text>
<text x="182.0" y="456.3" text-anchor="middle" font-family='"Liberation Sans", sans-serif' font-weight="bold" font-size="5.2" stroke="#0a0a0a" stroke-width="0.45">10<tspan dy="-2.3" font-size="4">1</tspan></text>
<text x="198.8" y="456.3" text-anchor="middle" font-family='"Liberation Sans", sans-serif' font-weight="bold" font-size="5.2" stroke="#0a0a0a" stroke-width="0.45">10<tspan dy="-2.3" font-size="4">2</tspan></text>
<text x="215.5" y="456.3" text-anchor="middle" font-family='"Liberation Sans", sans-serif' font-weight="bold" font-size="5.2" stroke="#0a0a0a" stroke-width="0.45">10<tspan dy="-2.3" font-size="4">3</tspan></text>
<text x="232.3" y="456.3" text-anchor="middle" font-family='"Liberation Sans", sans-serif' font-weight="bold" font-size="5.2" stroke="#0a0a0a" stroke-width="0.45">10<tspan dy="-2.3" font-size="4">4</tspan></text>
<path d="M164.7 446.9V449.1M169.7 446.9V448.2M172.7 446.9V448.2M176.4 446.9V448.2M178.9 446.9V448.2M181.4 446.9V449.1M186.5 446.9V448.2M189.4 446.9V448.2M193.2 446.9V448.2M195.6 446.9V448.2M198.2 446.9V449.1M203.2 446.9V448.2M206.2 446.9V448.2M209.9 446.9V448.2M212.4 446.9V448.2M214.9 446.9V449.1M220.0 446.9V448.2M222.9 446.9V448.2M226.7 446.9V448.2M229.1 446.9V448.2M231.7 446.9V449.1" stroke="#0a0a0a" stroke-width="0.8"/>
<path d="M189.4 421.6V433.0M189.4 427.4H231.7" stroke="#0a0a0a" stroke-width="1.35" fill="none"/>
<text transform="translate(230.8,423.9) scale(0.78,1)" text-anchor="end" font-family='"Liberation Sans", sans-serif' font-weight="bold" font-size="10" stroke="#0a0a0a" stroke-width="0.4">14%</text>
<path d="M255.6 375.2 L256.0 374.7 L256.4 373.1 L256.8 368.7 L257.2 358.9 L257.5 340.6 L257.9 325.7 L258.3 325.7 L258.7 325.7 L259.1 325.7 L259.5 325.7 L259.9 325.7 L260.3 325.7 L260.7 325.7 L261.0 347.1 L261.4 362.1 L261.8 370.2 L262.2 373.3 L262.6 374.4 L263.0 374.4 L263.4 375.0 L263.8 375.4 L264.2 374.1 L264.5 374.7 L264.9 375.2 L265.3 375.0 L265.7 375.2 L266.1 374.4 L266.5 375.0 L266.9 374.6 L267.3 375.3 L267.7 375.1 L268.0 375.3 L268.4 375.1 L268.8 374.6 L269.2 374.5 L269.6 375.4 L270.0 375.3 L270.4 375.1 L270.8 375.2 L271.2 374.9 L271.5 374.2 L271.9 375.0 L272.3 375.2 L272.7 374.5 L273.1 374.3 L273.5 375.4 L273.9 375.4 L274.3 374.7 L274.7 375.4 L275.0 374.7 L275.4 375.4 L275.8 375.1 L276.2 375.4 L276.6 375.2 L277.0 374.9 L277.4 374.5 L277.8 375.0 L278.2 374.3 L278.5 375.3 L278.9 374.9 L279.3 374.8 L279.7 375.2 L280.1 375.2 L280.5 374.7 L280.9 375.3 L281.3 374.5 L281.7 375.0 L282.0 375.3 L282.4 375.3 L282.8 375.3 L283.2 375.4 L283.6 375.0 L284.0 375.3 L284.4 374.0 L284.8 375.4 L285.2 374.9 L285.5 375.0 L285.9 375.0 L286.3 375.3 L286.7 374.1 L287.1 374.8 L287.5 374.7 L287.9 374.6 L288.3 374.0 L288.6 374.3 L289.0 375.2 L289.4 375.0 L289.8 374.3 L290.2 374.5 L290.6 375.0 L291.0 374.9 L291.4 375.2 L291.8 375.2 L292.1 374.6 L292.5 374.2 L292.9 374.8 L293.3 375.3 L293.7 375.3 L294.1 374.3 L294.5 374.5 L294.9 375.2 L295.3 375.1 L295.6 375.2 L296.0 375.4 L296.4 375.1 L296.8 374.6 L297.2 375.1 L297.6 374.5 L298.0 374.7 L298.4 375.1 L298.8 374.7 L299.1 374.6 L299.5 374.9 L299.9 374.3 L300.3 374.3 L300.7 374.9 L301.1 374.2 L301.5 374.7 L301.9 375.1 L302.3 375.1 L302.6 375.3 L303.0 375.3 L303.4 374.8 L303.8 374.5 L304.2 374.7 L304.6 374.6 L305.0 375.1 L305.4 375.0 L305.8 375.2 L306.1 375.2 L306.5 375.4 L306.9 375.0 L307.3 375.1 L307.7 374.8 L308.1 374.9 L308.5 375.4 L308.9 375.4 L309.3 375.4 L309.6 375.4 L310.0 375.4 L310.4 375.4 L310.8 375.4 L311.2 375.4 L311.6 375.4 L312.0 375.4 L312.4 375.4 L312.8 375.4 L313.1 375.4 L313.5 375.4 L313.9 375.4 L314.3 375.4 L314.7 375.4 L315.1 375.4 L315.5 375.4 L315.9 375.4 L316.3 375.4 L316.6 375.4 L317.0 375.4 L317.4 375.4 L317.8 375.4 L318.2 375.4 L318.6 375.4 L319.0 375.4 L319.4 375.4 L319.8 375.4 L320.1 375.4 L320.5 375.4 L320.9 375.4 L321.3 375.4 L321.7 375.4" fill="none" stroke="#0a0a0a" stroke-width="0.95"/>
<path d="M255.6 375.1 L256.0 375.1 L256.4 374.9 L256.8 374.3 L257.2 373.2 L257.5 370.9 L257.9 366.5 L258.3 359.2 L258.7 348.6 L259.1 334.8 L259.5 325.7 L259.9 325.7 L260.3 325.7 L260.7 325.7 L261.0 325.7 L261.4 325.7 L261.8 325.7 L262.2 337.8 L262.6 348.6 L263.0 356.7 L263.4 360.5 L263.8 361.9 L264.2 361.8 L264.5 361.2 L264.9 358.8 L265.3 357.7 L265.7 355.9 L266.1 354.1 L266.5 353.3 L266.9 352.7 L267.3 352.1 L267.7 352.0 L268.0 352.3 L268.4 352.8 L268.8 353.8 L269.2 355.5 L269.6 356.9 L270.0 357.1 L270.4 359.8 L270.8 362.2 L271.2 362.8 L271.5 365.4 L271.9 366.5 L272.3 367.4 L272.7 368.4 L273.1 369.0 L273.5 370.5 L273.9 369.7 L274.3 371.5 L274.7 371.4 L275.0 371.8 L275.4 371.4 L275.8 371.4 L276.2 371.4 L276.6 370.8 L277.0 370.9 L277.4 370.8 L277.8 369.7 L278.2 369.7 L278.5 369.1 L278.9 368.4 L279.3 367.9 L279.7 367.3 L280.1 366.6 L280.5 366.0 L280.9 365.4 L281.3 364.8 L281.7 364.0 L282.0 363.6 L282.4 363.7 L282.8 363.2 L283.2 363.5 L283.6 364.6 L284.0 364.5 L284.4 364.8 L284.8 366.4 L285.2 367.3 L285.5 367.3 L285.9 368.7 L286.3 369.4 L286.7 370.0 L287.1 370.4 L287.5 371.5 L287.9 371.8 L288.3 372.8 L288.6 373.0 L289.0 373.8 L289.4 373.4 L289.8 374.0 L290.2 374.2 L290.6 374.5 L291.0 374.6 L291.4 374.8 L291.8 374.6 L292.1 374.8 L292.5 374.1 L292.9 375.0 L293.3 374.9 L293.7 375.2 L294.1 374.7 L294.5 374.9 L294.9 375.3 L295.3 375.1 L295.6 375.0 L296.0 374.4 L296.4 375.2 L296.8 374.1 L297.2 374.4 L297.6 374.9 L298.0 375.0 L298.4 374.3 L298.8 375.3 L299.1 375.3 L299.5 374.7 L299.9 375.1 L300.3 374.6 L300.7 375.1 L301.1 375.1 L301.5 375.3 L301.9 375.3 L302.3 374.5 L302.6 374.8 L303.0 375.2 L303.4 374.7 L303.8 374.9 L304.2 374.9 L304.6 374.9 L305.0 374.8 L305.4 374.6 L305.8 374.8 L306.1 374.9 L306.5 375.1 L306.9 374.5 L307.3 375.0 L307.7 375.0 L308.1 375.2 L308.5 375.4 L308.9 375.4 L309.3 375.4 L309.6 375.4 L310.0 375.4 L310.4 375.4 L310.8 375.4 L311.2 375.4 L311.6 375.4 L312.0 375.4 L312.4 375.4 L312.8 375.4 L313.1 375.4 L313.5 375.4 L313.9 375.4 L314.3 375.4 L314.7 375.4 L315.1 375.4 L315.5 375.4 L315.9 375.4 L316.3 375.4 L316.6 375.4 L317.0 375.4 L317.4 375.4 L317.8 375.4 L318.2 375.4 L318.6 375.4 L319.0 375.4 L319.4 375.4 L319.8 375.4 L320.1 375.4 L320.5 375.4 L320.9 375.4 L321.3 375.4 L321.7 375.4" fill="none" stroke="#0a0a0a" stroke-width="1.6" stroke-linejoin="round"/>
<rect x="255.6" y="325.7" width="66.1" height="50.7" fill="none" stroke="#0a0a0a" stroke-width="1.3"/>
<line x1="255.0" y1="325.7" x2="255.0" y2="376.4" stroke="#0a0a0a" stroke-width="1.6"/>
<path d="M253.0 325.7H255.6M253.0 329.3H255.6M253.0 332.9H255.6M253.0 336.6H255.6M253.0 340.2H255.6M253.0 343.8H255.6M253.0 347.4H255.6M253.0 351.0H255.6M253.0 354.7H255.6M253.0 358.3H255.6M253.0 361.9H255.6M253.0 365.5H255.6M253.0 369.2H255.6M253.0 372.8H255.6M253.0 376.4H255.6" stroke="#0a0a0a" stroke-width="1.2"/>
<text transform="translate(251.2,328.5) rotate(-90)" font-family='"Liberation Sans", sans-serif' font-weight="bold" font-size="5.6" stroke="#0a0a0a" stroke-width="0.45">70</text>
<text transform="translate(251.0,377.2) rotate(-90)" font-family='"Liberation Sans", sans-serif' font-weight="bold" font-size="5.6" stroke="#0a0a0a" stroke-width="0.45">0</text>
<text x="256.2" y="385.8" text-anchor="middle" font-family='"Liberation Sans", sans-serif' font-weight="bold" font-size="5.2" stroke="#0a0a0a" stroke-width="0.45">10<tspan dy="-2.3" font-size="4">0</tspan></text>
<text x="272.7" y="385.8" text-anchor="middle" font-family='"Liberation Sans", sans-serif' font-weight="bold" font-size="5.2" stroke="#0a0a0a" stroke-width="0.45">10<tspan dy="-2.3" font-size="4">1</tspan></text>
<text x="289.2" y="385.8" text-anchor="middle" font-family='"Liberation Sans", sans-serif' font-weight="bold" font-size="5.2" stroke="#0a0a0a" stroke-width="0.45">10<tspan dy="-2.3" font-size="4">2</tspan></text>
<text x="305.8" y="385.8" text-anchor="middle" font-family='"Liberation Sans", sans-serif' font-weight="bold" font-size="5.2" stroke="#0a0a0a" stroke-width="0.45">10<tspan dy="-2.3" font-size="4">3</tspan></text>
<text x="322.3" y="385.8" text-anchor="middle" font-family='"Liberation Sans", sans-serif' font-weight="bold" font-size="5.2" stroke="#0a0a0a" stroke-width="0.45">10<tspan dy="-2.3" font-size="4">4</tspan></text>
<path d="M255.6 376.4V378.6M260.6 376.4V377.7M263.5 376.4V377.7M267.2 376.4V377.7M269.6 376.4V377.7M272.1 376.4V378.6M277.1 376.4V377.7M280.0 376.4V377.7M283.7 376.4V377.7M286.1 376.4V377.7M288.6 376.4V378.6M293.6 376.4V377.7M296.5 376.4V377.7M300.2 376.4V377.7M302.6 376.4V377.7M305.2 376.4V378.6M310.1 376.4V377.7M313.1 376.4V377.7M316.7 376.4V377.7M319.1 376.4V377.7M321.7 376.4V378.6" stroke="#0a0a0a" stroke-width="0.8"/>
<path d="M278.9 349.3V360.7M278.9 355.1H321.7" stroke="#0a0a0a" stroke-width="1.35" fill="none"/>
<text transform="translate(320.7,351.9) scale(0.78,1)" text-anchor="end" font-family='"Liberation Sans", sans-serif' font-weight="bold" font-size="10" stroke="#0a0a0a" stroke-width="0.4">23%</text>
<path d="M255.9 445.4 L256.3 445.4 L256.7 445.3 L257.1 445.2 L257.4 444.8 L257.8 443.9 L258.2 441.9 L258.6 437.9 L259.0 430.7 L259.4 418.9 L259.8 401.6 L260.2 396.2 L260.5 396.2 L260.9 396.2 L261.3 396.2 L261.7 396.2 L262.1 396.2 L262.5 396.2 L262.9 396.2 L263.3 396.2 L263.6 396.2 L264.0 408.9 L264.4 423.5 L264.8 433.5 L265.2 439.5 L265.6 442.7 L266.0 443.4 L266.4 444.7 L266.7 444.9 L267.1 444.8 L267.5 445.1 L267.9 445.0 L268.3 445.0 L268.7 444.8 L269.1 444.2 L269.4 445.0 L269.8 444.6 L270.2 445.3 L270.6 444.8 L271.0 443.8 L271.4 445.3 L271.8 444.7 L272.2 445.2 L272.5 444.9 L272.9 444.5 L273.3 444.7 L273.7 445.1 L274.1 444.8 L274.5 444.9 L274.9 444.5 L275.3 445.2 L275.6 444.6 L276.0 445.3 L276.4 445.1 L276.8 444.8 L277.2 444.2 L277.6 444.6 L278.0 445.2 L278.3 444.5 L278.7 444.6 L279.1 444.8 L279.5 444.2 L279.9 444.2 L280.3 445.3 L280.7 445.2 L281.1 445.3 L281.4 444.8 L281.8 444.8 L282.2 445.3 L282.6 444.6 L283.0 445.0 L283.4 445.1 L283.8 445.0 L284.2 445.2 L284.5 444.4 L284.9 444.7 L285.3 445.1 L285.7 445.2 L286.1 444.4 L286.5 445.1 L286.9 445.1 L287.3 444.7 L287.6 444.7 L288.0 445.1 L288.4 444.6 L288.8 444.7 L289.2 445.3 L289.6 445.2 L290.0 443.9 L290.3 444.9 L290.7 444.7 L291.1 444.9 L291.5 444.4 L291.9 444.9 L292.3 445.3 L292.7 445.1 L293.1 445.3 L293.4 445.1 L293.8 444.9 L294.2 445.1 L294.6 445.0 L295.0 445.1 L295.4 445.1 L295.8 445.1 L296.2 445.2 L296.5 444.5 L296.9 445.4 L297.3 445.3 L297.7 445.0 L298.1 445.2 L298.5 444.8 L298.9 444.6 L299.3 445.0 L299.6 445.1 L300.0 444.9 L300.4 444.4 L300.8 444.9 L301.2 444.4 L301.6 445.0 L302.0 444.5 L302.3 444.8 L302.7 444.7 L303.1 444.5 L303.5 445.3 L303.9 445.3 L304.3 443.9 L304.7 445.3 L305.1 445.2 L305.4 445.0 L305.8 445.1 L306.2 445.2 L306.6 445.3 L307.0 444.4 L307.4 445.2 L307.8 445.1 L308.2 444.5 L308.5 445.4 L308.9 445.4 L309.3 445.4 L309.7 445.4 L310.1 445.4 L310.5 445.4 L310.9 445.4 L311.2 445.4 L311.6 445.4 L312.0 445.4 L312.4 445.4 L312.8 445.4 L313.2 445.4 L313.6 445.4 L314.0 445.4 L314.3 445.4 L314.7 445.4 L315.1 445.4 L315.5 445.4 L315.9 445.4 L316.3 445.4 L316.7 445.4 L317.1 445.4 L317.4 445.4 L317.8 445.4 L318.2 445.4 L318.6 445.4 L319.0 445.4 L319.4 445.4 L319.8 445.4 L320.2 445.4 L320.5 445.4 L320.9 445.4 L321.3 445.4 L321.7 445.4" fill="none" stroke="#0a0a0a" stroke-width="0.95"/>
<path d="M255.9 434.4 L256.3 428.6 L256.7 422.5 L257.1 417.5 L257.4 415.0 L257.8 415.9 L258.2 419.7 L258.6 425.5 L259.0 431.6 L259.4 436.9 L259.8 440.7 L260.2 443.1 L260.5 444.4 L260.9 444.4 L261.3 444.6 L261.7 444.3 L262.1 444.6 L262.5 444.7 L262.9 444.8 L263.3 444.3 L263.6 445.1 L264.0 444.3 L264.4 445.1 L264.8 444.5 L265.2 444.4 L265.6 445.2 L266.0 444.3 L266.4 444.9 L266.7 445.0 L267.1 445.2 L267.5 445.3 L267.9 445.0 L268.3 445.2 L268.7 445.3 L269.1 445.0 L269.4 445.2 L269.8 444.6 L270.2 445.2 L270.6 444.0 L271.0 444.8 L271.4 443.8 L271.8 444.8 L272.2 443.9 L272.5 444.4 L272.9 443.7 L273.3 443.1 L273.7 443.4 L274.1 443.1 L274.5 443.0 L274.9 442.9 L275.3 442.1 L275.6 441.6 L276.0 441.1 L276.4 441.4 L276.8 440.6 L277.2 439.6 L277.6 439.6 L278.0 438.6 L278.3 439.0 L278.7 439.2 L279.1 438.7 L279.5 438.3 L279.9 437.8 L280.3 436.6 L280.7 436.2 L281.1 435.2 L281.4 435.1 L281.8 434.3 L282.2 433.0 L282.6 433.0 L283.0 432.2 L283.4 430.8 L283.8 429.8 L284.2 429.2 L284.5 428.5 L284.9 427.4 L285.3 426.8 L285.7 425.9 L286.1 425.3 L286.5 425.3 L286.9 423.4 L287.3 424.7 L287.6 424.1 L288.0 423.9 L288.4 424.8 L288.8 425.0 L289.2 425.7 L289.6 425.8 L290.0 426.7 L290.3 427.4 L290.7 428.3 L291.1 429.9 L291.5 430.7 L291.9 431.8 L292.3 432.9 L292.7 434.3 L293.1 435.2 L293.4 436.6 L293.8 436.8 L294.2 438.1 L294.6 438.8 L295.0 439.3 L295.4 440.2 L295.8 441.1 L296.2 441.5 L296.5 442.1 L296.9 442.8 L297.3 442.7 L297.7 443.6 L298.1 443.7 L298.5 444.0 L298.9 444.0 L299.3 444.7 L299.6 444.6 L300.0 444.9 L300.4 444.9 L300.8 444.9 L301.2 443.9 L301.6 444.9 L302.0 444.8 L302.3 444.9 L302.7 444.4 L303.1 444.9 L303.5 445.2 L303.9 445.2 L304.3 444.8 L304.7 445.1 L305.1 444.8 L305.4 444.5 L305.8 444.3 L306.2 444.7 L306.6 445.1 L307.0 445.1 L307.4 445.3 L307.8 445.1 L308.2 444.7 L308.5 445.4 L308.9 445.4 L309.3 445.4 L309.7 445.4 L310.1 445.4 L310.5 445.4 L310.9 445.4 L311.2 445.4 L311.6 445.4 L312.0 445.4 L312.4 445.4 L312.8 445.4 L313.2 445.4 L313.6 445.4 L314.0 445.4 L314.3 445.4 L314.7 445.4 L315.1 445.4 L315.5 445.4 L315.9 445.4 L316.3 445.4 L316.7 445.4 L317.1 445.4 L317.4 445.4 L317.8 445.4 L318.2 445.4 L318.6 445.4 L319.0 445.4 L319.4 445.4 L319.8 445.4 L320.2 445.4 L320.5 445.4 L320.9 445.4 L321.3 445.4 L321.7 445.4" fill="none" stroke="#0a0a0a" stroke-width="1.6" stroke-linejoin="round"/>
<rect x="255.9" y="396.2" width="65.8" height="50.2" fill="none" stroke="#0a0a0a" stroke-width="1.3"/>
<line x1="255.3" y1="396.2" x2="255.3" y2="446.4" stroke="#0a0a0a" stroke-width="1.6"/>
<path d="M253.3 396.2H255.9M253.3 399.8H255.9M253.3 403.4H255.9M253.3 407.0H255.9M253.3 410.5H255.9M253.3 414.1H255.9M253.3 417.7H255.9M253.3 421.3H255.9M253.3 424.9H255.9M253.3 428.5H255.9M253.3 432.1H255.9M253.3 435.6H255.9M253.3 439.2H255.9M253.3 442.8H255.9M253.3 446.4H255.9" stroke="#0a0a0a" stroke-width="1.2"/>
<text transform="translate(251.5,399.0) rotate(-90)" font-family='"Liberation Sans", sans-serif' font-weight="bold" font-size="5.6" stroke="#0a0a0a" stroke-width="0.45">70</text>
<text transform="translate(251.3,447.2) rotate(-90)" font-family='"Liberation Sans", sans-serif' font-weight="bold" font-size="5.6" stroke="#0a0a0a" stroke-width="0.45">0</text>
<text x="256.5" y="455.8" text-anchor="middle" font-family='"Liberation Sans", sans-serif' font-weight="bold" font-size="5.2" stroke="#0a0a0a" stroke-width="0.45">10<tspan dy="-2.3" font-size="4">0</tspan></text>
<text x="273.0" y="455.8" text-anchor="middle" font-family='"Liberation Sans", sans-serif' font-weight="bold" font-size="5.2" stroke="#0a0a0a" stroke-width="0.45">10<tspan dy="-2.3" font-size="4">1</tspan></text>
<text x="289.4" y="455.8" text-anchor="middle" font-family='"Liberation Sans", sans-serif' font-weight="bold" font-size="5.2" stroke="#0a0a0a" stroke-width="0.45">10<tspan dy="-2.3" font-size="4">2</tspan></text>
<text x="305.9" y="455.8" text-anchor="middle" font-family='"Liberation Sans", sans-serif' font-weight="bold" font-size="5.2" stroke="#0a0a0a" stroke-width="0.45">10<tspan dy="-2.3" font-size="4">3</tspan></text>
<text x="322.3" y="455.8" text-anchor="middle" font-family='"Liberation Sans", sans-serif' font-weight="bold" font-size="5.2" stroke="#0a0a0a" stroke-width="0.45">10<tspan dy="-2.3" font-size="4">4</tspan></text>
<path d="M255.9 446.4V448.6M260.9 446.4V447.7M263.7 446.4V447.7M267.4 446.4V447.7M269.8 446.4V447.7M272.4 446.4V448.6M277.3 446.4V447.7M280.2 446.4V447.7M283.8 446.4V447.7M286.3 446.4V447.7M288.8 446.4V448.6M293.8 446.4V447.7M296.6 446.4V447.7M300.3 446.4V447.7M302.7 446.4V447.7M305.2 446.4V448.6M310.2 446.4V447.7M313.1 446.4V447.7M316.7 446.4V447.7M319.2 446.4V447.7M321.7 446.4V448.6" stroke="#0a0a0a" stroke-width="0.8"/>
<path d="M278.4 420.7V432.1M278.4 426.5H321.7" stroke="#0a0a0a" stroke-width="1.35" fill="none"/>
<text transform="translate(319.9,422.4) scale(0.78,1)" text-anchor="end" font-family='"Liberation Sans", sans-serif' font-weight="bold" font-size="10" stroke="#0a0a0a" stroke-width="0.4">69%</text>
<path d="M345.2 371.1 L345.6 364.2 L346.0 350.0 L346.4 326.3 L346.8 325.7 L347.1 325.7 L347.5 325.7 L347.9 325.7 L348.3 325.7 L348.7 325.7 L349.1 325.7 L349.5 337.0 L349.9 356.8 L350.3 367.1 L350.6 372.3 L351.0 374.0 L351.4 375.1 L351.8 374.2 L352.2 374.6 L352.6 374.7 L353.0 375.3 L353.4 375.2 L353.8 375.3 L354.1 375.1 L354.5 375.1 L354.9 375.3 L355.3 375.3 L355.7 374.5 L356.1 375.4 L356.5 374.3 L356.9 374.3 L357.3 374.4 L357.6 374.8 L358.0 375.3 L358.4 375.3 L358.8 375.3 L359.2 375.0 L359.6 375.4 L360.0 375.0 L360.4 374.4 L360.8 375.1 L361.1 375.1 L361.5 374.3 L361.9 375.4 L362.3 375.2 L362.7 374.8 L363.1 374.7 L363.5 374.1 L363.9 375.1 L364.3 375.4 L364.6 373.9 L365.0 375.4 L365.4 375.3 L365.8 374.5 L366.2 375.3 L366.6 375.3 L367.0 375.2 L367.4 375.0 L367.8 374.5 L368.1 374.8 L368.5 374.4 L368.9 375.2 L369.3 375.4 L369.7 374.9 L370.1 374.8 L370.5 374.6 L370.9 375.1 L371.3 374.7 L371.6 374.6 L372.0 374.8 L372.4 374.8 L372.8 375.0 L373.2 374.9 L373.6 374.6 L374.0 374.7 L374.4 374.4 L374.8 375.0 L375.1 374.9 L375.5 375.2 L375.9 373.9 L376.3 374.8 L376.7 375.1 L377.1 374.3 L377.5 375.0 L377.9 374.7 L378.2 374.3 L378.6 375.2 L379.0 375.0 L379.4 375.1 L379.8 374.3 L380.2 374.9 L380.6 374.8 L381.0 374.8 L381.4 374.4 L381.7 374.6 L382.1 375.2 L382.5 374.9 L382.9 374.9 L383.3 375.4 L383.7 374.7 L384.1 375.0 L384.5 374.9 L384.9 374.3 L385.2 374.3 L385.6 375.1 L386.0 374.9 L386.4 374.3 L386.8 375.0 L387.2 375.2 L387.6 374.8 L388.0 374.5 L388.4 374.9 L388.7 374.2 L389.1 375.3 L389.5 375.2 L389.9 374.4 L390.3 375.0 L390.7 375.1 L391.1 374.5 L391.5 375.0 L391.9 375.2 L392.2 374.7 L392.6 374.8 L393.0 375.0 L393.4 375.3 L393.8 375.4 L394.2 374.4 L394.6 375.2 L395.0 374.8 L395.4 374.5 L395.7 374.8 L396.1 375.3 L396.5 375.0 L396.9 374.3 L397.3 374.8 L397.7 374.9 L398.1 375.4 L398.5 375.4 L398.9 375.4 L399.2 375.4 L399.6 375.4 L400.0 375.4 L400.4 375.4 L400.8 375.4 L401.2 375.4 L401.6 375.4 L402.0 375.4 L402.4 375.4 L402.7 375.4 L403.1 375.4 L403.5 375.4 L403.9 375.4 L404.3 375.4 L404.7 375.4 L405.1 375.4 L405.5 375.4 L405.9 375.4 L406.2 375.4 L406.6 375.4 L407.0 375.4 L407.4 375.4 L407.8 375.4 L408.2 375.4 L408.6 375.4 L409.0 375.4 L409.4 375.4 L409.7 375.4 L410.1 375.4 L410.5 375.4 L410.9 375.4 L411.3 375.4" fill="none" stroke="#0a0a0a" stroke-width="0.95"/>
<path d="M345.2 372.9 L345.6 369.2 L346.0 361.6 L346.4 348.2 L346.8 327.5 L347.1 325.7 L347.5 325.7 L347.9 325.7 L348.3 325.7 L348.7 325.7 L349.1 325.7 L349.5 325.7 L349.9 325.7 L350.3 325.7 L350.6 336.0 L351.0 351.6 L351.4 361.1 L351.8 366.8 L352.2 370.2 L352.6 371.8 L353.0 373.3 L353.4 373.8 L353.8 374.0 L354.1 374.1 L354.5 374.3 L354.9 373.9 L355.3 373.0 L355.7 373.1 L356.1 371.8 L356.5 371.1 L356.9 370.7 L357.3 369.5 L357.6 368.3 L358.0 367.4 L358.4 366.5 L358.8 365.6 L359.2 362.9 L359.6 363.4 L360.0 362.7 L360.4 362.2 L360.8 362.0 L361.1 362.3 L361.5 362.6 L361.9 362.6 L362.3 362.9 L362.7 364.4 L363.1 365.1 L363.5 365.3 L363.9 367.8 L364.3 368.6 L364.6 369.6 L365.0 370.2 L365.4 371.2 L365.8 371.9 L366.2 371.4 L366.6 372.5 L367.0 371.8 L367.4 373.0 L367.8 373.2 L368.1 373.3 L368.5 372.8 L368.9 372.8 L369.3 371.9 L369.7 371.7 L370.1 372.3 L370.5 371.0 L370.9 370.0 L371.3 368.8 L371.6 368.2 L372.0 366.1 L372.4 364.0 L372.8 361.5 L373.2 356.7 L373.6 354.9 L374.0 352.1 L374.4 349.3 L374.8 347.6 L375.1 346.1 L375.5 345.8 L375.9 347.3 L376.3 350.1 L376.7 352.9 L377.1 356.0 L377.5 358.6 L377.9 361.4 L378.2 363.7 L378.6 367.0 L379.0 368.9 L379.4 370.2 L379.8 369.8 L380.2 371.7 L380.6 372.0 L381.0 372.1 L381.4 372.7 L381.7 373.1 L382.1 373.4 L382.5 373.9 L382.9 373.8 L383.3 373.9 L383.7 374.4 L384.1 374.6 L384.5 374.4 L384.9 374.8 L385.2 374.8 L385.6 374.9 L386.0 374.7 L386.4 373.8 L386.8 374.9 L387.2 375.0 L387.6 373.9 L388.0 374.4 L388.4 374.4 L388.7 374.9 L389.1 374.8 L389.5 374.2 L389.9 374.6 L390.3 374.9 L390.7 374.7 L391.1 374.9 L391.5 375.2 L391.9 375.1 L392.2 374.8 L392.6 375.2 L393.0 375.2 L393.4 375.4 L393.8 375.2 L394.2 375.2 L394.6 374.7 L395.0 374.7 L395.4 374.4 L395.7 375.3 L396.1 374.8 L396.5 375.1 L396.9 375.0 L397.3 375.1 L397.7 374.9 L398.1 375.4 L398.5 375.4 L398.9 375.4 L399.2 375.4 L399.6 375.4 L400.0 375.4 L400.4 375.4 L400.8 375.4 L401.2 375.4 L401.6 375.4 L402.0 375.4 L402.4 375.4 L402.7 375.4 L403.1 375.4 L403.5 375.4 L403.9 375.4 L404.3 375.4 L404.7 375.4 L405.1 375.4 L405.5 375.4 L405.9 375.4 L406.2 375.4 L406.6 375.4 L407.0 375.4 L407.4 375.4 L407.8 375.4 L408.2 375.4 L408.6 375.4 L409.0 375.4 L409.4 375.4 L409.7 375.4 L410.1 375.4 L410.5 375.4 L410.9 375.4 L411.3 375.4" fill="none" stroke="#0a0a0a" stroke-width="1.6" stroke-linejoin="round"/>
<rect x="345.2" y="325.7" width="66.1" height="50.7" fill="none" stroke="#0a0a0a" stroke-width="1.3"/>
<line x1="344.59999999999997" y1="325.7" x2="344.59999999999997" y2="376.4" stroke="#0a0a0a" stroke-width="1.6"/>
<path d="M342.6 325.7H345.2M342.6 329.3H345.2M342.6 332.9H345.2M342.6 336.6H345.2M342.6 340.2H345.2M342.6 343.8H345.2M342.6 347.4H345.2M342.6 351.0H345.2M342.6 354.7H345.2M342.6 358.3H345.2M342.6 361.9H345.2M342.6 365.5H345.2M342.6 369.2H345.2M342.6 372.8H345.2M342.6 376.4H345.2" stroke="#0a0a0a" stroke-width="1.2"/>
<text transform="translate(340.8,328.5) rotate(-90)" font-family='"Liberation Sans", sans-serif' font-weight="bold" font-size="5.6" stroke="#0a0a0a" stroke-width="0.45">70</text>
<text transform="translate(340.6,377.2) rotate(-90)" font-family='"Liberation Sans", sans-serif' font-weight="bold" font-size="5.6" stroke="#0a0a0a" stroke-width="0.45">0</text>
<text x="345.8" y="385.8" text-anchor="middle" font-family='"Liberation Sans", sans-serif' font-weight="bold" font-size="5.2" stroke="#0a0a0a" stroke-width="0.45">10<tspan dy="-2.3" font-size="4">0</tspan></text>
<text x="362.3" y="385.8" text-anchor="middle" font-family='"Liberation Sans", sans-serif' font-weight="bold" font-size="5.2" stroke="#0a0a0a" stroke-width="0.45">10<tspan dy="-2.3" font-size="4">1</tspan></text>
<text x="378.9" y="385.8" text-anchor="middle" font-family='"Liberation Sans", sans-serif' font-weight="bold" font-size="5.2" stroke="#0a0a0a" stroke-width="0.45">10<tspan dy="-2.3" font-size="4">2</tspan></text>
<text x="395.4" y="385.8" text-anchor="middle" font-family='"Liberation Sans", sans-serif' font-weight="bold" font-size="5.2" stroke="#0a0a0a" stroke-width="0.45">10<tspan dy="-2.3" font-size="4">3</tspan></text>
<text x="411.9" y="385.8" text-anchor="middle" font-family='"Liberation Sans", sans-serif' font-weight="bold" font-size="5.2" stroke="#0a0a0a" stroke-width="0.45">10<tspan dy="-2.3" font-size="4">4</tspan></text>
<path d="M345.2 376.4V378.6M350.2 376.4V377.7M353.1 376.4V377.7M356.8 376.4V377.7M359.2 376.4V377.7M361.7 376.4V378.6M366.7 376.4V377.7M369.6 376.4V377.7M373.3 376.4V377.7M375.7 376.4V377.7M378.2 376.4V378.6M383.2 376.4V377.7M386.1 376.4V377.7M389.8 376.4V377.7M392.2 376.4V377.7M394.8 376.4V378.6M399.7 376.4V377.7M402.7 376.4V377.7M406.3 376.4V377.7M408.7 376.4V377.7M411.3 376.4V378.6" stroke="#0a0a0a" stroke-width="0.8"/>
<path d="M368.1 349.9V361.3M368.1 355.7H411.3" stroke="#0a0a0a" stroke-width="1.35" fill="none"/>
<text transform="translate(410.2,352.4) scale(0.78,1)" text-anchor="end" font-family='"Liberation Sans", sans-serif' font-weight="bold" font-size="10" stroke="#0a0a0a" stroke-width="0.4">55%</text>
<path d="M345.2 445.4 L345.6 445.4 L346.0 445.4 L346.4 445.4 L346.8 445.4 L347.2 445.4 L347.5 445.3 L347.9 445.2 L348.3 444.9 L348.7 444.0 L349.1 441.8 L349.5 437.4 L349.9 429.2 L350.3 415.2 L350.7 396.2 L351.1 396.2 L351.5 396.2 L351.8 396.2 L352.2 396.2 L352.6 396.2 L353.0 396.2 L353.4 396.2 L353.8 396.2 L354.2 396.2 L354.6 408.3 L355.0 424.4 L355.4 434.3 L355.8 439.2 L356.2 441.9 L356.5 443.3 L356.9 445.1 L357.3 444.9 L357.7 445.1 L358.1 445.2 L358.5 445.3 L358.9 445.3 L359.3 444.9 L359.7 445.3 L360.1 445.4 L360.5 445.2 L360.8 444.9 L361.2 445.4 L361.6 445.4 L362.0 445.0 L362.4 444.8 L362.8 445.2 L363.2 444.8 L363.6 445.0 L364.0 445.2 L364.4 445.1 L364.8 445.3 L365.1 445.0 L365.5 444.5 L365.9 445.3 L366.3 445.0 L366.7 445.2 L367.1 445.3 L367.5 444.9 L367.9 445.0 L368.3 445.3 L368.7 445.0 L369.1 444.7 L369.5 444.8 L369.8 445.1 L370.2 444.7 L370.6 445.3 L371.0 445.2 L371.4 445.3 L371.8 444.8 L372.2 445.4 L372.6 445.2 L373.0 445.2 L373.4 444.9 L373.8 444.8 L374.1 444.4 L374.5 445.3 L374.9 445.4 L375.3 444.8 L375.7 445.0 L376.1 445.1 L376.5 445.1 L376.9 445.0 L377.3 444.4 L377.7 445.2 L378.1 445.1 L378.4 444.9 L378.8 444.8 L379.2 444.7 L379.6 445.4 L380.0 444.7 L380.4 445.2 L380.8 444.7 L381.2 444.8 L381.6 444.9 L382.0 444.3 L382.4 445.0 L382.8 444.6 L383.1 444.7 L383.5 444.7 L383.9 444.3 L384.3 445.0 L384.7 444.7 L385.1 445.2 L385.5 444.7 L385.9 445.3 L386.3 445.3 L386.7 445.4 L387.1 445.0 L387.4 445.3 L387.8 445.3 L388.2 445.1 L388.6 445.4 L389.0 444.3 L389.4 445.1 L389.8 445.4 L390.2 445.3 L390.6 445.0 L391.0 444.6 L391.4 445.3 L391.8 444.8 L392.1 445.1 L392.5 445.3 L392.9 445.1 L393.3 444.8 L393.7 444.7 L394.1 445.1 L394.5 445.3 L394.9 444.7 L395.3 445.4 L395.7 445.3 L396.1 445.1 L396.4 445.1 L396.8 445.2 L397.2 444.4 L397.6 444.8 L398.0 444.9 L398.4 445.4 L398.8 445.4 L399.2 445.4 L399.6 445.4 L400.0 445.4 L400.4 445.4 L400.7 445.4 L401.1 445.4 L401.5 445.4 L401.9 445.4 L402.3 445.4 L402.7 445.4 L403.1 445.4 L403.5 445.4 L403.9 445.4 L404.3 445.4 L404.7 445.4 L405.1 445.4 L405.4 445.4 L405.8 445.4 L406.2 445.4 L406.6 445.4 L407.0 445.4 L407.4 445.4 L407.8 445.4 L408.2 445.4 L408.6 445.4 L409.0 445.4 L409.4 445.4 L409.7 445.4 L410.1 445.4 L410.5 445.4 L410.9 445.4 L411.3 445.4 L411.7 445.4" fill="none" stroke="#0a0a0a" stroke-width="0.95"/>
<path d="M345.2 442.4 L345.6 438.5 L346.0 432.8 L346.4 426.8 L346.8 423.4 L347.2 424.6 L347.5 429.6 L347.9 435.8 L348.3 440.7 L348.7 443.6 L349.1 444.8 L349.5 445.2 L349.9 445.3 L350.3 444.7 L350.7 445.3 L351.1 444.8 L351.5 444.4 L351.8 443.5 L352.2 443.9 L352.6 443.5 L353.0 442.9 L353.4 442.0 L353.8 440.8 L354.2 440.4 L354.6 440.7 L355.0 440.0 L355.4 440.5 L355.8 440.2 L356.2 439.7 L356.5 441.2 L356.9 442.1 L357.3 442.0 L357.7 443.4 L358.1 443.3 L358.5 444.0 L358.9 444.7 L359.3 443.8 L359.7 444.9 L360.1 445.3 L360.5 444.7 L360.8 444.9 L361.2 444.9 L361.6 445.1 L362.0 445.2 L362.4 444.6 L362.8 444.9 L363.2 444.8 L363.6 445.1 L364.0 444.1 L364.4 444.8 L364.8 444.2 L365.1 444.6 L365.5 444.4 L365.9 443.6 L366.3 444.5 L366.7 444.4 L367.1 444.1 L367.5 444.0 L367.9 444.0 L368.3 443.6 L368.7 442.6 L369.1 443.4 L369.5 443.2 L369.8 443.0 L370.2 442.5 L370.6 442.8 L371.0 442.2 L371.4 442.3 L371.8 441.9 L372.2 441.1 L372.6 441.0 L373.0 440.8 L373.4 440.3 L373.8 440.5 L374.1 440.3 L374.5 439.4 L374.9 439.4 L375.3 439.3 L375.7 438.7 L376.1 438.2 L376.5 437.6 L376.9 436.4 L377.3 435.9 L377.7 434.3 L378.1 432.5 L378.4 430.8 L378.8 428.4 L379.2 425.5 L379.6 422.4 L380.0 419.8 L380.4 416.9 L380.8 413.6 L381.2 411.6 L381.6 410.6 L382.0 409.6 L382.4 409.9 L382.8 411.3 L383.1 413.0 L383.5 415.8 L383.9 418.2 L384.3 421.4 L384.7 424.6 L385.1 427.6 L385.5 430.8 L385.9 432.9 L386.3 434.8 L386.7 436.0 L387.1 437.7 L387.4 438.6 L387.8 438.0 L388.2 440.0 L388.6 439.8 L389.0 441.1 L389.4 441.4 L389.8 441.5 L390.2 441.7 L390.6 441.9 L391.0 442.5 L391.4 442.0 L391.8 442.8 L392.1 443.0 L392.5 443.3 L392.9 442.8 L393.3 443.7 L393.7 443.8 L394.1 443.8 L394.5 443.8 L394.9 443.8 L395.3 443.7 L395.7 443.9 L396.1 444.5 L396.4 444.2 L396.8 444.9 L397.2 444.0 L397.6 445.0 L398.0 444.4 L398.4 445.1 L398.8 445.2 L399.2 445.2 L399.6 445.2 L400.0 445.3 L400.4 445.3 L400.7 445.3 L401.1 445.3 L401.5 445.3 L401.9 445.3 L402.3 445.4 L402.7 445.4 L403.1 445.4 L403.5 445.4 L403.9 445.4 L404.3 445.4 L404.7 445.4 L405.1 445.4 L405.4 445.4 L405.8 445.4 L406.2 445.4 L406.6 445.4 L407.0 445.4 L407.4 445.4 L407.8 445.4 L408.2 445.4 L408.6 445.4 L409.0 445.4 L409.4 445.4 L409.7 445.4 L410.1 445.4 L410.5 445.4 L410.9 445.4 L411.3 445.4 L411.7 445.4" fill="none" stroke="#0a0a0a" stroke-width="1.6" stroke-linejoin="round"/>
<rect x="345.2" y="396.2" width="66.5" height="50.2" fill="none" stroke="#0a0a0a" stroke-width="1.3"/>
<line x1="344.59999999999997" y1="396.2" x2="344.59999999999997" y2="446.4" stroke="#0a0a0a" stroke-width="1.6"/>
<path d="M342.6 396.2H345.2M342.6 399.8H345.2M342.6 403.4H345.2M342.6 407.0H345.2M342.6 410.5H345.2M342.6 414.1H345.2M342.6 417.7H345.2M342.6 421.3H345.2M342.6 424.9H345.2M342.6 428.5H345.2M342.6 432.1H345.2M342.6 435.6H345.2M342.6 439.2H345.2M342.6 442.8H345.2M342.6 446.4H345.2" stroke="#0a0a0a" stroke-width="1.2"/>
<text transform="translate(340.8,399.0) rotate(-90)" font-family='"Liberation Sans", sans-serif' font-weight="bold" font-size="5.6" stroke="#0a0a0a" stroke-width="0.45">70</text>
<text transform="translate(340.6,447.2) rotate(-90)" font-family='"Liberation Sans", sans-serif' font-weight="bold" font-size="5.6" stroke="#0a0a0a" stroke-width="0.45">0</text>
<text x="345.8" y="455.8" text-anchor="middle" font-family='"Liberation Sans", sans-serif' font-weight="bold" font-size="5.2" stroke="#0a0a0a" stroke-width="0.45">10<tspan dy="-2.3" font-size="4">0</tspan></text>
<text x="362.4" y="455.8" text-anchor="middle" font-family='"Liberation Sans", sans-serif' font-weight="bold" font-size="5.2" stroke="#0a0a0a" stroke-width="0.45">10<tspan dy="-2.3" font-size="4">1</tspan></text>
<text x="379.1" y="455.8" text-anchor="middle" font-family='"Liberation Sans", sans-serif' font-weight="bold" font-size="5.2" stroke="#0a0a0a" stroke-width="0.45">10<tspan dy="-2.3" font-size="4">2</tspan></text>
<text x="395.7" y="455.8" text-anchor="middle" font-family='"Liberation Sans", sans-serif' font-weight="bold" font-size="5.2" stroke="#0a0a0a" stroke-width="0.45">10<tspan dy="-2.3" font-size="4">3</tspan></text>
<text x="412.3" y="455.8" text-anchor="middle" font-family='"Liberation Sans", sans-serif' font-weight="bold" font-size="5.2" stroke="#0a0a0a" stroke-width="0.45">10<tspan dy="-2.3" font-size="4">4</tspan></text>
<path d="M345.2 446.4V448.6M350.2 446.4V447.7M353.1 446.4V447.7M356.8 446.4V447.7M359.2 446.4V447.7M361.8 446.4V448.6M366.8 446.4V447.7M369.8 446.4V447.7M373.4 446.4V447.7M375.9 446.4V447.7M378.4 446.4V448.6M383.5 446.4V447.7M386.4 446.4V447.7M390.1 446.4V447.7M392.5 446.4V447.7M395.1 446.4V448.6M400.1 446.4V447.7M403.0 446.4V447.7M406.7 446.4V447.7M409.1 446.4V447.7M411.7 446.4V448.6" stroke="#0a0a0a" stroke-width="0.8"/>
<path d="M368.9 420.4V431.8M368.9 426.2H411.7" stroke="#0a0a0a" stroke-width="1.35" fill="none"/>
<text transform="translate(410.7,423.2) scale(0.78,1)" text-anchor="end" font-family='"Liberation Sans", sans-serif' font-weight="bold" font-size="10" stroke="#0a0a0a" stroke-width="0.4">89%</text>
<path d="M447.0 364.4 L447.4 353.0 L447.8 334.6 L448.2 325.7 L448.6 325.7 L449.0 325.7 L449.4 325.7 L449.7 325.7 L450.1 325.7 L450.5 325.7 L450.9 325.7 L451.3 325.7 L451.7 325.7 L452.1 328.5 L452.5 338.6 L452.9 347.8 L453.3 355.1 L453.7 361.3 L454.1 366.2 L454.4 369.8 L454.8 371.5 L455.2 372.3 L455.6 374.6 L456.0 374.5 L456.4 375.0 L456.8 375.1 L457.2 374.2 L457.6 374.9 L458.0 375.0 L458.4 374.8 L458.8 375.2 L459.1 375.3 L459.5 374.9 L459.9 374.8 L460.3 374.9 L460.7 375.0 L461.1 375.1 L461.5 375.1 L461.9 374.3 L462.3 374.8 L462.7 375.4 L463.1 375.2 L463.5 374.9 L463.8 374.9 L464.2 374.8 L464.6 375.2 L465.0 375.3 L465.4 374.9 L465.8 375.1 L466.2 374.8 L466.6 374.5 L467.0 375.0 L467.4 375.3 L467.8 374.2 L468.2 374.8 L468.5 375.2 L468.9 375.4 L469.3 374.8 L469.7 375.1 L470.1 374.5 L470.5 374.9 L470.9 373.3 L471.3 374.9 L471.7 374.7 L472.1 375.3 L472.5 375.2 L472.9 374.9 L473.2 374.9 L473.6 374.8 L474.0 374.5 L474.4 374.2 L474.8 375.1 L475.2 374.7 L475.6 374.9 L476.0 375.1 L476.4 374.8 L476.8 375.0 L477.2 374.3 L477.6 374.8 L477.9 374.7 L478.3 375.2 L478.7 374.6 L479.1 375.1 L479.5 374.9 L479.9 375.4 L480.3 374.3 L480.7 375.2 L481.1 375.2 L481.5 374.9 L481.9 374.3 L482.3 375.2 L482.7 375.1 L483.0 375.4 L483.4 374.7 L483.8 374.8 L484.2 374.6 L484.6 373.8 L485.0 374.9 L485.4 375.0 L485.8 375.1 L486.2 375.0 L486.6 374.7 L487.0 375.3 L487.4 375.3 L487.7 375.0 L488.1 374.8 L488.5 374.8 L488.9 374.3 L489.3 373.9 L489.7 375.3 L490.1 375.3 L490.5 374.5 L490.9 374.8 L491.3 375.1 L491.7 374.5 L492.1 374.9 L492.4 375.4 L492.8 375.0 L493.2 374.7 L493.6 375.2 L494.0 375.1 L494.4 374.6 L494.8 375.4 L495.2 375.3 L495.6 374.5 L496.0 373.4 L496.4 375.0 L496.8 374.9 L497.1 375.1 L497.5 375.1 L497.9 375.2 L498.3 375.4 L498.7 375.1 L499.1 375.1 L499.5 375.2 L499.9 374.3 L500.3 375.4 L500.7 375.4 L501.1 375.4 L501.5 375.4 L501.8 375.4 L502.2 375.4 L502.6 375.4 L503.0 375.4 L503.4 375.4 L503.8 375.4 L504.2 375.4 L504.6 375.4 L505.0 375.4 L505.4 375.4 L505.8 375.4 L506.2 375.4 L506.5 375.4 L506.9 375.4 L507.3 375.4 L507.7 375.4 L508.1 375.4 L508.5 375.4 L508.9 375.4 L509.3 375.4 L509.7 375.4 L510.1 375.4 L510.5 375.4 L510.9 375.4 L511.2 375.4 L511.6 375.4 L512.0 375.4 L512.4 375.4 L512.8 375.4 L513.2 375.4 L513.6 375.4" fill="none" stroke="#0a0a0a" stroke-width="0.95"/>
<path d="M447.0 373.3 L447.4 370.5 L447.8 364.7 L448.2 354.5 L448.6 338.1 L449.0 325.7 L449.4 325.7 L449.7 325.7 L450.1 325.7 L450.5 325.7 L450.9 325.7 L451.3 325.7 L451.7 325.7 L452.1 325.7 L452.5 325.7 L452.9 325.7 L453.3 329.0 L453.7 339.5 L454.1 347.2 L454.4 352.9 L454.8 358.5 L455.2 362.5 L455.6 366.5 L456.0 369.2 L456.4 370.7 L456.8 372.4 L457.2 373.7 L457.6 374.5 L458.0 374.5 L458.4 375.1 L458.8 374.1 L459.1 374.9 L459.5 374.1 L459.9 374.6 L460.3 374.6 L460.7 375.1 L461.1 375.4 L461.5 375.2 L461.9 374.3 L462.3 374.9 L462.7 374.9 L463.1 374.2 L463.5 375.2 L463.8 374.9 L464.2 374.2 L464.6 374.5 L465.0 373.9 L465.4 375.4 L465.8 375.4 L466.2 374.8 L466.6 375.3 L467.0 375.0 L467.4 375.0 L467.8 374.3 L468.2 374.3 L468.5 375.3 L468.9 375.4 L469.3 375.0 L469.7 375.2 L470.1 375.1 L470.5 374.9 L470.9 375.3 L471.3 375.1 L471.7 375.3 L472.1 374.8 L472.5 375.3 L472.9 375.2 L473.2 375.3 L473.6 374.6 L474.0 374.6 L474.4 375.1 L474.8 375.0 L475.2 375.2 L475.6 374.9 L476.0 375.4 L476.4 375.2 L476.8 375.1 L477.2 374.9 L477.6 374.9 L477.9 374.6 L478.3 375.0 L478.7 375.1 L479.1 375.2 L479.5 375.1 L479.9 374.3 L480.3 375.0 L480.7 375.3 L481.1 375.1 L481.5 374.8 L481.9 374.6 L482.3 374.3 L482.7 374.3 L483.0 375.0 L483.4 374.0 L483.8 375.0 L484.2 375.4 L484.6 375.1 L485.0 375.3 L485.4 375.3 L485.8 375.0 L486.2 374.8 L486.6 374.9 L487.0 375.1 L487.4 375.1 L487.7 375.1 L488.1 375.1 L488.5 375.2 L488.9 375.2 L489.3 374.7 L489.7 375.3 L490.1 375.3 L490.5 374.4 L490.9 374.7 L491.3 374.8 L491.7 374.9 L492.1 375.2 L492.4 375.2 L492.8 375.2 L493.2 374.9 L493.6 374.4 L494.0 375.0 L494.4 374.6 L494.8 374.8 L495.2 374.9 L495.6 374.9 L496.0 374.9 L496.4 375.3 L496.8 375.2 L497.1 375.2 L497.5 375.0 L497.9 374.7 L498.3 374.7 L498.7 375.3 L499.1 374.8 L499.5 374.5 L499.9 374.8 L500.3 375.4 L500.7 375.4 L501.1 375.4 L501.5 375.4 L501.8 375.4 L502.2 375.4 L502.6 375.4 L503.0 375.4 L503.4 375.4 L503.8 375.4 L504.2 375.4 L504.6 375.4 L505.0 375.4 L505.4 375.4 L505.8 375.4 L506.2 375.4 L506.5 375.4 L506.9 375.4 L507.3 375.4 L507.7 375.4 L508.1 375.4 L508.5 375.4 L508.9 375.4 L509.3 375.4 L509.7 375.4 L510.1 375.4 L510.5 375.4 L510.9 375.4 L511.2 375.4 L511.6 375.4 L512.0 375.4 L512.4 375.4 L512.8 375.4 L513.2 375.4 L513.6 375.4" fill="none" stroke="#0a0a0a" stroke-width="1.6" stroke-linejoin="round"/>
<rect x="447" y="325.7" width="66.6" height="50.7" fill="none" stroke="#0a0a0a" stroke-width="1.3"/>
<line x1="446.4" y1="325.7" x2="446.4" y2="376.4" stroke="#0a0a0a" stroke-width="1.6"/>
<path d="M444.4 325.7H447M444.4 329.3H447M444.4 332.9H447M444.4 336.6H447M444.4 340.2H447M444.4 343.8H447M444.4 347.4H447M444.4 351.0H447M444.4 354.7H447M444.4 358.3H447M444.4 361.9H447M444.4 365.5H447M444.4 369.2H447M444.4 372.8H447M444.4 376.4H447" stroke="#0a0a0a" stroke-width="1.2"/>
<text transform="translate(442.6,328.5) rotate(-90)" font-family='"Liberation Sans", sans-serif' font-weight="bold" font-size="5.6" stroke="#0a0a0a" stroke-width="0.45">70</text>
<text transform="translate(442.4,377.2) rotate(-90)" font-family='"Liberation Sans", sans-serif' font-weight="bold" font-size="5.6" stroke="#0a0a0a" stroke-width="0.45">0</text>
<text x="447.6" y="385.8" text-anchor="middle" font-family='"Liberation Sans", sans-serif' font-weight="bold" font-size="5.2" stroke="#0a0a0a" stroke-width="0.45">10<tspan dy="-2.3" font-size="4">0</tspan></text>
<text x="464.2" y="385.8" text-anchor="middle" font-family='"Liberation Sans", sans-serif' font-weight="bold" font-size="5.2" stroke="#0a0a0a" stroke-width="0.45">10<tspan dy="-2.3" font-size="4">1</tspan></text>
<text x="480.9" y="385.8" text-anchor="middle" font-family='"Liberation Sans", sans-serif' font-weight="bold" font-size="5.2" stroke="#0a0a0a" stroke-width="0.45">10<tspan dy="-2.3" font-size="4">2</tspan></text>
<text x="497.6" y="385.8" text-anchor="middle" font-family='"Liberation Sans", sans-serif' font-weight="bold" font-size="5.2" stroke="#0a0a0a" stroke-width="0.45">10<tspan dy="-2.3" font-size="4">3</tspan></text>
<text x="514.2" y="385.8" text-anchor="middle" font-family='"Liberation Sans", sans-serif' font-weight="bold" font-size="5.2" stroke="#0a0a0a" stroke-width="0.45">10<tspan dy="-2.3" font-size="4">4</tspan></text>
<path d="M447.0 376.4V378.6M452.0 376.4V377.7M454.9 376.4V377.7M458.6 376.4V377.7M461.1 376.4V377.7M463.6 376.4V378.6M468.7 376.4V377.7M471.6 376.4V377.7M475.3 376.4V377.7M477.7 376.4V377.7M480.3 376.4V378.6M485.3 376.4V377.7M488.2 376.4V377.7M491.9 376.4V377.7M494.4 376.4V377.7M497.0 376.4V378.6M502.0 376.4V377.7M504.9 376.4V377.7M508.6 376.4V377.7M511.0 376.4V377.7M513.6 376.4V378.6" stroke="#0a0a0a" stroke-width="0.8"/>
<path d="M470.1 350.2V361.6M470.1 356H513.6" stroke="#0a0a0a" stroke-width="1.35" fill="none"/>
<text transform="translate(507.3,352.4) scale(0.78,1)" text-anchor="end" font-family='"Liberation Sans", sans-serif' font-weight="bold" font-size="10" stroke="#0a0a0a" stroke-width="0.4">1%</text>
<path d="M447.0 444.7 L447.4 443.2 L447.8 439.4 L448.2 430.5 L448.6 413.7 L449.0 396.2 L449.4 396.2 L449.7 396.2 L450.1 396.2 L450.5 396.2 L450.9 396.2 L451.3 396.2 L451.7 396.2 L452.1 409.4 L452.5 425.8 L452.9 434.7 L453.3 438.2 L453.7 439.0 L454.1 440.2 L454.4 440.4 L454.8 440.5 L455.2 440.6 L455.6 441.3 L456.0 442.1 L456.4 442.3 L456.8 442.8 L457.2 443.1 L457.6 443.7 L458.0 444.0 L458.4 443.6 L458.8 443.9 L459.1 444.9 L459.5 444.2 L459.9 445.0 L460.3 445.2 L460.7 445.1 L461.1 445.0 L461.5 445.2 L461.9 444.8 L462.3 444.9 L462.7 445.3 L463.1 445.2 L463.5 445.1 L463.8 445.0 L464.2 444.8 L464.6 445.3 L465.0 445.0 L465.4 444.6 L465.8 445.0 L466.2 445.4 L466.6 445.4 L467.0 444.9 L467.4 444.5 L467.8 445.4 L468.2 445.2 L468.5 444.9 L468.9 444.8 L469.3 445.0 L469.7 445.3 L470.1 444.6 L470.5 444.7 L470.9 445.1 L471.3 444.1 L471.7 445.4 L472.1 445.1 L472.5 445.2 L472.9 444.8 L473.2 445.4 L473.6 444.3 L474.0 445.4 L474.4 445.1 L474.8 444.8 L475.2 445.2 L475.6 444.6 L476.0 445.0 L476.4 445.3 L476.8 444.3 L477.2 445.0 L477.6 444.9 L477.9 444.5 L478.3 445.1 L478.7 444.8 L479.1 445.1 L479.5 445.1 L479.9 445.3 L480.3 445.4 L480.7 445.2 L481.1 445.1 L481.5 444.4 L481.9 445.3 L482.3 444.7 L482.7 444.6 L483.0 445.2 L483.4 445.0 L483.8 445.3 L484.2 444.9 L484.6 445.2 L485.0 445.1 L485.4 445.2 L485.8 445.3 L486.2 445.1 L486.6 445.2 L487.0 444.6 L487.4 445.4 L487.7 445.0 L488.1 444.8 L488.5 445.3 L488.9 444.9 L489.3 445.2 L489.7 445.0 L490.1 444.2 L490.5 444.9 L490.9 444.8 L491.3 444.9 L491.7 444.5 L492.1 444.4 L492.4 445.1 L492.8 445.0 L493.2 444.6 L493.6 444.9 L494.0 445.0 L494.4 445.3 L494.8 444.3 L495.2 445.0 L495.6 445.1 L496.0 445.1 L496.4 445.1 L496.8 445.0 L497.1 445.2 L497.5 445.1 L497.9 444.5 L498.3 445.1 L498.7 445.3 L499.1 445.1 L499.5 444.8 L499.9 445.2 L500.3 445.4 L500.7 445.4 L501.1 445.4 L501.5 445.4 L501.8 445.4 L502.2 445.4 L502.6 445.4 L503.0 445.4 L503.4 445.4 L503.8 445.4 L504.2 445.4 L504.6 445.4 L505.0 445.4 L505.4 445.4 L505.8 445.4 L506.2 445.4 L506.5 445.4 L506.9 445.4 L507.3 445.4 L507.7 445.4 L508.1 445.4 L508.5 445.4 L508.9 445.4 L509.3 445.4 L509.7 445.4 L510.1 445.4 L510.5 445.4 L510.9 445.4 L511.2 445.4 L511.6 445.4 L512.0 445.4 L512.4 445.4 L512.8 445.4 L513.2 445.4 L513.6 445.4" fill="none" stroke="#0a0a0a" stroke-width="0.95"/>
<path d="M447.0 445.3 L447.4 445.1 L447.8 444.5 L448.2 443.4 L448.6 441.1 L449.0 436.7 L449.4 429.3 L449.7 417.6 L450.1 401.0 L450.5 396.2 L450.9 396.2 L451.3 396.2 L451.7 396.2 L452.1 396.2 L452.5 396.2 L452.9 396.2 L453.3 396.2 L453.7 396.2 L454.1 396.2 L454.4 396.6 L454.8 413.9 L455.2 427.2 L455.6 435.0 L456.0 440.0 L456.4 442.7 L456.8 444.2 L457.2 440.0 L457.6 440.3 L458.0 439.7 L458.4 440.1 L458.8 439.5 L459.1 439.4 L459.5 440.1 L459.9 439.9 L460.3 440.2 L460.7 439.7 L461.1 438.9 L461.5 439.6 L461.9 439.4 L462.3 439.2 L462.7 439.2 L463.1 438.7 L463.5 438.7 L463.8 438.4 L464.2 439.1 L464.6 438.9 L465.0 439.5 L465.4 439.3 L465.8 440.3 L466.2 440.3 L466.6 440.7 L467.0 440.7 L467.4 440.9 L467.8 441.0 L468.2 441.0 L468.5 441.1 L468.9 442.0 L469.3 442.0 L469.7 441.5 L470.1 442.0 L470.5 442.0 L470.9 441.6 L471.3 441.4 L471.7 441.8 L472.1 442.0 L472.5 442.7 L472.9 442.5 L473.2 442.4 L473.6 442.7 L474.0 442.8 L474.4 442.8 L474.8 442.7 L475.2 441.6 L475.6 442.6 L476.0 443.0 L476.4 443.1 L476.8 442.9 L477.2 443.2 L477.6 443.4 L477.9 443.4 L478.3 442.8 L478.7 442.5 L479.1 443.4 L479.5 443.0 L479.9 443.5 L480.3 442.9 L480.7 443.1 L481.1 443.7 L481.5 443.5 L481.9 443.4 L482.3 443.4 L482.7 443.0 L483.0 443.7 L483.4 443.9 L483.8 443.9 L484.2 443.5 L484.6 443.7 L485.0 444.0 L485.4 444.2 L485.8 444.1 L486.2 444.1 L486.6 443.8 L487.0 443.2 L487.4 444.3 L487.7 443.5 L488.1 443.4 L488.5 443.8 L488.9 444.5 L489.3 444.6 L489.7 444.5 L490.1 444.4 L490.5 444.1 L490.9 444.6 L491.3 444.1 L491.7 444.3 L492.1 444.8 L492.4 444.7 L492.8 444.6 L493.2 444.4 L493.6 444.1 L494.0 444.7 L494.4 445.1 L494.8 444.9 L495.2 444.6 L495.6 444.5 L496.0 444.8 L496.4 444.7 L496.8 444.8 L497.1 444.7 L497.5 445.0 L497.9 444.8 L498.3 445.2 L498.7 445.1 L499.1 445.2 L499.5 444.8 L499.9 444.9 L500.3 445.4 L500.7 445.4 L501.1 445.4 L501.5 445.4 L501.8 445.4 L502.2 445.4 L502.6 445.4 L503.0 445.4 L503.4 445.4 L503.8 445.4 L504.2 445.4 L504.6 445.4 L505.0 445.4 L505.4 445.4 L505.8 445.4 L506.2 445.4 L506.5 445.4 L506.9 445.4 L507.3 445.4 L507.7 445.4 L508.1 445.4 L508.5 445.4 L508.9 445.4 L509.3 445.4 L509.7 445.4 L510.1 445.4 L510.5 445.4 L510.9 445.4 L511.2 445.4 L511.6 445.4 L512.0 445.4 L512.4 445.4 L512.8 445.4 L513.2 445.4 L513.6 445.4" fill="none" stroke="#0a0a0a" stroke-width="1.6" stroke-linejoin="round"/>
<rect x="447" y="396.2" width="66.6" height="50.2" fill="none" stroke="#0a0a0a" stroke-width="1.3"/>
<line x1="446.4" y1="396.2" x2="446.4" y2="446.4" stroke="#0a0a0a" stroke-width="1.6"/>
<path d="M444.4 396.2H447M444.4 399.8H447M444.4 403.4H447M444.4 407.0H447M444.4 410.5H447M444.4 414.1H447M444.4 417.7H447M444.4 421.3H447M444.4 424.9H447M444.4 428.5H447M444.4 432.1H447M444.4 435.6H447M444.4 439.2H447M444.4 442.8H447M444.4 446.4H447" stroke="#0a0a0a" stroke-width="1.2"/>
<text transform="translate(442.6,399.0) rotate(-90)" font-family='"Liberation Sans", sans-serif' font-weight="bold" font-size="5.6" stroke="#0a0a0a" stroke-width="0.45">70</text>
<text transform="translate(442.4,447.2) rotate(-90)" font-family='"Liberation Sans", sans-serif' font-weight="bold" font-size="5.6" stroke="#0a0a0a" stroke-width="0.45">0</text>
<text x="447.6" y="455.8" text-anchor="middle" font-family='"Liberation Sans", sans-serif' font-weight="bold" font-size="5.2" stroke="#0a0a0a" stroke-width="0.45">10<tspan dy="-2.3" font-size="4">0</tspan></text>
<text x="464.2" y="455.8" text-anchor="middle" font-family='"Liberation Sans", sans-serif' font-weight="bold" font-size="5.2" stroke="#0a0a0a" stroke-width="0.45">10<tspan dy="-2.3" font-size="4">1</tspan></text>
<text x="480.9" y="455.8" text-anchor="middle" font-family='"Liberation Sans", sans-serif' font-weight="bold" font-size="5.2" stroke="#0a0a0a" stroke-width="0.45">10<tspan dy="-2.3" font-size="4">2</tspan></text>
<text x="497.6" y="455.8" text-anchor="middle" font-family='"Liberation Sans", sans-serif' font-weight="bold" font-size="5.2" stroke="#0a0a0a" stroke-width="0.45">10<tspan dy="-2.3" font-size="4">3</tspan></text>
<text x="514.2" y="455.8" text-anchor="middle" font-family='"Liberation Sans", sans-serif' font-weight="bold" font-size="5.2" stroke="#0a0a0a" stroke-width="0.45">10<tspan dy="-2.3" font-size="4">4</tspan></text>
<path d="M447.0 446.4V448.6M452.0 446.4V447.7M454.9 446.4V447.7M458.6 446.4V447.7M461.1 446.4V447.7M463.6 446.4V448.6M468.7 446.4V447.7M471.6 446.4V447.7M475.3 446.4V447.7M477.7 446.4V447.7M480.3 446.4V448.6M485.3 446.4V447.7M488.2 446.4V447.7M491.9 446.4V447.7M494.4 446.4V447.7M497.0 446.4V448.6M502.0 446.4V447.7M504.9 446.4V447.7M508.6 446.4V447.7M511.0 446.4V447.7M513.6 446.4V448.6" stroke="#0a0a0a" stroke-width="0.8"/>
<path d="M470.1 420.4V431.8M470.1 426.2H513.6" stroke="#0a0a0a" stroke-width="1.35" fill="none"/>
<text transform="translate(508.2,423.2) scale(0.78,1)" text-anchor="end" font-family='"Liberation Sans", sans-serif' font-weight="bold" font-size="10" stroke="#0a0a0a" stroke-width="0.4">5%</text>
<path d="M69.7 564.7C70.2 558.9 72.2 557.4 74.7 557.4L84.9 557.4C88.9 557.4 92.4 561.0 93.9 564.7Z" fill="none" stroke="#0a0a0a" stroke-width="0.8"/>
<path d="M71.4 564.7C71.9 559.6 73.9 558.3 76.4 558.3L80.5 558.3C84.5 558.3 88.0 561.5 89.5 564.7Z" fill="#161616" stroke="#0a0a0a" stroke-width="0.6"/>
<path d="M73.6 564.7C74.1 561.5 76.1 560.7 78.6 560.7L77.0 560.7C81.0 560.7 84.5 562.7 86.0 564.7Z" fill="none" stroke="#bbb" stroke-width="0.45"/>
<path d="M75.9 564.7C76.4 563.2 78.4 562.8 80.9 562.8L73.5 562.8C77.5 562.8 81.0 563.7 82.5 564.7Z" fill="none" stroke="#999" stroke-width="0.4"/>
<path d="M104.7 564.7C105.3 560.9 107.0 560.9 108.7 560.9C112.0 560.9 114.9 562.4 116.0 564.7Z" fill="#161616" stroke="#0a0a0a" stroke-width="0.6"/>

<rect x="68.5" y="512.9" width="66.9" height="52.3" fill="none" stroke="#0a0a0a" stroke-width="1.3"/>
<path d="M95.7 512.9V565.1999999999999M68.5 546.8H135.4" stroke="#0a0a0a" stroke-width="1.3" fill="none"/>
<text x="68.8" y="571.7" text-anchor="middle" font-family='"Liberation Sans", sans-serif' font-weight="bold" font-size="4" stroke="#0a0a0a" stroke-width="0.5">10<tspan dy="-1.6" font-size="3.2">0</tspan></text>
<text transform="translate(65.5,566.0) rotate(-90)" text-anchor="middle" font-family='"Liberation Sans", sans-serif' font-weight="bold" font-size="4" stroke="#0a0a0a" stroke-width="0.5">10<tspan dy="-1.6" font-size="3.2">0</tspan></text>
<text x="85.5" y="571.7" text-anchor="middle" font-family='"Liberation Sans", sans-serif' font-weight="bold" font-size="4" stroke="#0a0a0a" stroke-width="0.5">10<tspan dy="-1.6" font-size="3.2">1</tspan></text>
<text transform="translate(65.5,552.9) rotate(-90)" text-anchor="middle" font-family='"Liberation Sans", sans-serif' font-weight="bold" font-size="4" stroke="#0a0a0a" stroke-width="0.5">10<tspan dy="-1.6" font-size="3.2">1</tspan></text>
<text x="102.2" y="571.7" text-anchor="middle" font-family='"Liberation Sans", sans-serif' font-weight="bold" font-size="4" stroke="#0a0a0a" stroke-width="0.5">10<tspan dy="-1.6" font-size="3.2">2</tspan></text>
<text transform="translate(65.5,539.8) rotate(-90)" text-anchor="middle" font-family='"Liberation Sans", sans-serif' font-weight="bold" font-size="4" stroke="#0a0a0a" stroke-width="0.5">10<tspan dy="-1.6" font-size="3.2">2</tspan></text>
<text x="119.0" y="571.7" text-anchor="middle" font-family='"Liberation Sans", sans-serif' font-weight="bold" font-size="4" stroke="#0a0a0a" stroke-width="0.5">10<tspan dy="-1.6" font-size="3.2">3</tspan></text>
<text transform="translate(65.5,526.8) rotate(-90)" text-anchor="middle" font-family='"Liberation Sans", sans-serif' font-weight="bold" font-size="4" stroke="#0a0a0a" stroke-width="0.5">10<tspan dy="-1.6" font-size="3.2">3</tspan></text>
<text x="135.7" y="571.7" text-anchor="middle" font-family='"Liberation Sans", sans-serif' font-weight="bold" font-size="4" stroke="#0a0a0a" stroke-width="0.5">10<tspan dy="-1.6" font-size="3.2">4</tspan></text>
<text transform="translate(65.5,513.7) rotate(-90)" text-anchor="middle" font-family='"Liberation Sans", sans-serif' font-weight="bold" font-size="4" stroke="#0a0a0a" stroke-width="0.5">10<tspan dy="-1.6" font-size="3.2">4</tspan></text>
<path d="M68.5 565.1999999999999V567.8M65.9 565.2H68.5M85.2 565.1999999999999V567.8M65.9 552.1H68.5M102.0 565.1999999999999V567.8M65.9 539.0H68.5M118.7 565.1999999999999V567.8M65.9 526.0H68.5M135.4 565.1999999999999V567.8M65.9 512.9H68.5" stroke="#0a0a0a" stroke-width="1.2"/>
<text transform="translate(129.8,525) scale(0.8,1)" text-anchor="end" font-family='"Liberation Sans", sans-serif' font-weight="bold" font-size="10" stroke="#0a0a0a" stroke-width="0.4">0%</text>
<text transform="translate(130.5,557.4) scale(0.8,1)" text-anchor="end" font-family='"Liberation Sans", sans-serif' font-weight="bold" font-size="10" stroke="#0a0a0a" stroke-width="0.4">5%</text>
<path d="M69.3 636.0C69.8 630.2 71.8 628.8 74.3 628.8L85.3 628.8C89.3 628.8 92.8 632.4 94.3 636.0Z" fill="none" stroke="#0a0a0a" stroke-width="0.8"/>
<path d="M71.3 636.0C71.8 631.2 73.8 630.0 76.3 630.0L82.0 630.0C86.0 630.0 89.5 633.0 91.0 636.0Z" fill="#161616" stroke="#0a0a0a" stroke-width="0.6"/>
<path d="M73.5 636.0C74.0 633.0 76.0 632.3 78.5 632.3L78.5 632.3C82.5 632.3 86.0 634.1 87.5 636.0Z" fill="none" stroke="#bbb" stroke-width="0.45"/>
<path d="M75.8 636.0C76.3 634.6 78.3 634.2 80.8 634.2L75.0 634.2C79.0 634.2 82.5 635.1 84.0 636.0Z" fill="none" stroke="#999" stroke-width="0.4"/>
<path d="M101.5 636.0C102.3 630.1 104.9 630.1 107.5 630.1C112.5 630.1 116.8 632.5 118.5 636.0Z" fill="none" stroke="#0a0a0a" stroke-width="0.7"/>
<path d="M104.0 636.0C104.6 631.8 106.4 631.8 108.2 631.8C111.8 631.8 114.8 633.5 116.0 636.0Z" fill="#161616" stroke="#0a0a0a" stroke-width="0.6"/>
<path d="M88.5 636.0C89.3 633.6 91.7 633.6 94.1 633.6C98.9 633.6 102.9 634.6 104.5 636.0Z" fill="#161616" stroke="#0a0a0a" stroke-width="0.6"/>

<rect x="68.5" y="584.3" width="66.9" height="52.2" fill="none" stroke="#0a0a0a" stroke-width="1.3"/>
<path d="M95.7 584.3V636.5M68.5 618.0999999999999H135.4" stroke="#0a0a0a" stroke-width="1.3" fill="none"/>
<text x="68.8" y="643.0" text-anchor="middle" font-family='"Liberation Sans", sans-serif' font-weight="bold" font-size="4" stroke="#0a0a0a" stroke-width="0.5">10<tspan dy="-1.6" font-size="3.2">0</tspan></text>
<text transform="translate(65.5,637.3) rotate(-90)" text-anchor="middle" font-family='"Liberation Sans", sans-serif' font-weight="bold" font-size="4" stroke="#0a0a0a" stroke-width="0.5">10<tspan dy="-1.6" font-size="3.2">0</tspan></text>
<text x="85.5" y="643.0" text-anchor="middle" font-family='"Liberation Sans", sans-serif' font-weight="bold" font-size="4" stroke="#0a0a0a" stroke-width="0.5">10<tspan dy="-1.6" font-size="3.2">1</tspan></text>
<text transform="translate(65.5,624.2) rotate(-90)" text-anchor="middle" font-family='"Liberation Sans", sans-serif' font-weight="bold" font-size="4" stroke="#0a0a0a" stroke-width="0.5">10<tspan dy="-1.6" font-size="3.2">1</tspan></text>
<text x="102.2" y="643.0" text-anchor="middle" font-family='"Liberation Sans", sans-serif' font-weight="bold" font-size="4" stroke="#0a0a0a" stroke-width="0.5">10<tspan dy="-1.6" font-size="3.2">2</tspan></text>
<text transform="translate(65.5,611.2) rotate(-90)" text-anchor="middle" font-family='"Liberation Sans", sans-serif' font-weight="bold" font-size="4" stroke="#0a0a0a" stroke-width="0.5">10<tspan dy="-1.6" font-size="3.2">2</tspan></text>
<text x="119.0" y="643.0" text-anchor="middle" font-family='"Liberation Sans", sans-serif' font-weight="bold" font-size="4" stroke="#0a0a0a" stroke-width="0.5">10<tspan dy="-1.6" font-size="3.2">3</tspan></text>
<text transform="translate(65.5,598.1) rotate(-90)" text-anchor="middle" font-family='"Liberation Sans", sans-serif' font-weight="bold" font-size="4" stroke="#0a0a0a" stroke-width="0.5">10<tspan dy="-1.6" font-size="3.2">3</tspan></text>
<text x="135.7" y="643.0" text-anchor="middle" font-family='"Liberation Sans", sans-serif' font-weight="bold" font-size="4" stroke="#0a0a0a" stroke-width="0.5">10<tspan dy="-1.6" font-size="3.2">4</tspan></text>
<text transform="translate(65.5,585.1) rotate(-90)" text-anchor="middle" font-family='"Liberation Sans", sans-serif' font-weight="bold" font-size="4" stroke="#0a0a0a" stroke-width="0.5">10<tspan dy="-1.6" font-size="3.2">4</tspan></text>
<path d="M68.5 636.5V639.1M65.9 636.5H68.5M85.2 636.5V639.1M65.9 623.5H68.5M102.0 636.5V639.1M65.9 610.4H68.5M118.7 636.5V639.1M65.9 597.4H68.5M135.4 636.5V639.1M65.9 584.3H68.5" stroke="#0a0a0a" stroke-width="1.2"/>
<text transform="translate(130.8,595.9) scale(0.8,1)" text-anchor="end" font-family='"Liberation Sans", sans-serif' font-weight="bold" font-size="10" stroke="#0a0a0a" stroke-width="0.4">1%</text>
<text transform="translate(132.7,629.6) scale(0.8,1)" text-anchor="end" font-family='"Liberation Sans", sans-serif' font-weight="bold" font-size="10" stroke="#0a0a0a" stroke-width="0.4">24%</text>
<path d="M168.3 564.7C168.8 558.1 170.8 556.5 173.3 556.5L182.6 556.5C186.6 556.5 190.1 560.6 191.6 564.7Z" fill="none" stroke="#0a0a0a" stroke-width="0.8"/>
<path d="M170.0 564.7C170.5 558.9 172.5 557.5 175.0 557.5L178.5 557.5C182.5 557.5 186.0 561.1 187.5 564.7Z" fill="#161616" stroke="#0a0a0a" stroke-width="0.6"/>
<path d="M172.2 564.7C172.7 561.1 174.7 560.2 177.2 560.2L175.0 560.2C179.0 560.2 182.5 562.5 184.0 564.7Z" fill="none" stroke="#bbb" stroke-width="0.45"/>
<path d="M174.5 564.7C175.0 563.0 177.0 562.5 179.5 562.5L171.5 562.5C175.5 562.5 179.0 563.6 180.5 564.7Z" fill="none" stroke="#999" stroke-width="0.4"/>
<path d="M197.7 564.7C198.5 561.4 200.8 561.4 203.1 561.4C207.6 561.4 211.5 562.7 213.0 564.7Z" fill="none" stroke="#0a0a0a" stroke-width="0.7"/>
<path d="M200.0 564.7C200.6 562.7 202.2 562.7 203.8 562.7C207.2 562.7 209.9 563.5 211.0 564.7Z" fill="#161616" stroke="#0a0a0a" stroke-width="0.6"/>

<rect x="166.0" y="512.9" width="67.1" height="52.3" fill="none" stroke="#0a0a0a" stroke-width="1.3"/>
<path d="M193.2 512.9V565.1999999999999M166.0 546.8H233.1" stroke="#0a0a0a" stroke-width="1.3" fill="none"/>
<text x="166.3" y="571.7" text-anchor="middle" font-family='"Liberation Sans", sans-serif' font-weight="bold" font-size="4" stroke="#0a0a0a" stroke-width="0.5">10<tspan dy="-1.6" font-size="3.2">0</tspan></text>
<text transform="translate(163.0,566.0) rotate(-90)" text-anchor="middle" font-family='"Liberation Sans", sans-serif' font-weight="bold" font-size="4" stroke="#0a0a0a" stroke-width="0.5">10<tspan dy="-1.6" font-size="3.2">0</tspan></text>
<text x="183.1" y="571.7" text-anchor="middle" font-family='"Liberation Sans", sans-serif' font-weight="bold" font-size="4" stroke="#0a0a0a" stroke-width="0.5">10<tspan dy="-1.6" font-size="3.2">1</tspan></text>
<text transform="translate(163.0,552.9) rotate(-90)" text-anchor="middle" font-family='"Liberation Sans", sans-serif' font-weight="bold" font-size="4" stroke="#0a0a0a" stroke-width="0.5">10<tspan dy="-1.6" font-size="3.2">1</tspan></text>
<text x="199.9" y="571.7" text-anchor="middle" font-family='"Liberation Sans", sans-serif' font-weight="bold" font-size="4" stroke="#0a0a0a" stroke-width="0.5">10<tspan dy="-1.6" font-size="3.2">2</tspan></text>
<text transform="translate(163.0,539.8) rotate(-90)" text-anchor="middle" font-family='"Liberation Sans", sans-serif' font-weight="bold" font-size="4" stroke="#0a0a0a" stroke-width="0.5">10<tspan dy="-1.6" font-size="3.2">2</tspan></text>
<text x="216.6" y="571.7" text-anchor="middle" font-family='"Liberation Sans", sans-serif' font-weight="bold" font-size="4" stroke="#0a0a0a" stroke-width="0.5">10<tspan dy="-1.6" font-size="3.2">3</tspan></text>
<text transform="translate(163.0,526.8) rotate(-90)" text-anchor="middle" font-family='"Liberation Sans", sans-serif' font-weight="bold" font-size="4" stroke="#0a0a0a" stroke-width="0.5">10<tspan dy="-1.6" font-size="3.2">3</tspan></text>
<text x="233.4" y="571.7" text-anchor="middle" font-family='"Liberation Sans", sans-serif' font-weight="bold" font-size="4" stroke="#0a0a0a" stroke-width="0.5">10<tspan dy="-1.6" font-size="3.2">4</tspan></text>
<text transform="translate(163.0,513.7) rotate(-90)" text-anchor="middle" font-family='"Liberation Sans", sans-serif' font-weight="bold" font-size="4" stroke="#0a0a0a" stroke-width="0.5">10<tspan dy="-1.6" font-size="3.2">4</tspan></text>
<path d="M166.0 565.1999999999999V567.8M163.4 565.2H166.0M182.8 565.1999999999999V567.8M163.4 552.1H166.0M199.6 565.1999999999999V567.8M163.4 539.0H166.0M216.3 565.1999999999999V567.8M163.4 526.0H166.0M233.1 565.1999999999999V567.8M163.4 512.9H166.0" stroke="#0a0a0a" stroke-width="1.2"/>
<text transform="translate(230.7,524) scale(0.8,1)" text-anchor="end" font-family='"Liberation Sans", sans-serif' font-weight="bold" font-size="10" stroke="#0a0a0a" stroke-width="0.4">1%</text>
<text transform="translate(230.7,557.2) scale(0.8,1)" text-anchor="end" font-family='"Liberation Sans", sans-serif' font-weight="bold" font-size="10" stroke="#0a0a0a" stroke-width="0.4">6%</text>
<path d="M167.5 636.0C168.0 630.2 170.0 628.8 172.5 628.8L184.8 628.8C188.8 628.8 192.3 632.4 193.8 636.0Z" fill="none" stroke="#0a0a0a" stroke-width="0.8"/>
<path d="M169.2 636.0C169.7 631.0 171.7 629.8 174.2 629.8L181.5 629.8C185.5 629.8 189.0 632.9 190.5 636.0Z" fill="#161616" stroke="#0a0a0a" stroke-width="0.6"/>
<path d="M171.4 636.0C171.9 632.9 173.9 632.2 176.4 632.2L178.0 632.2C182.0 632.2 185.5 634.1 187.0 636.0Z" fill="none" stroke="#bbb" stroke-width="0.45"/>
<path d="M173.7 636.0C174.2 634.5 176.2 634.1 178.7 634.1L174.5 634.1C178.5 634.1 182.0 635.1 183.5 636.0Z" fill="none" stroke="#999" stroke-width="0.4"/>
<path d="M199.0 636.0C200.1 628.8 203.2 628.8 206.3 628.8C212.7 628.8 217.9 631.7 220.0 636.0Z" fill="none" stroke="#0a0a0a" stroke-width="0.7"/>
<path d="M202.0 636.0C202.8 630.5 205.2 630.5 207.6 630.5C212.4 630.5 216.4 632.7 218.0 636.0Z" fill="#161616" stroke="#0a0a0a" stroke-width="0.6"/>
<path d="M204.2 636.0C204.7 632.6 206.3 632.6 207.8 632.6C210.9 632.6 213.5 634.0 214.5 636.0Z" fill="none" stroke="#bbb" stroke-width="0.45"/>
<path d="M206.5 636.0C206.7 634.4 207.4 634.4 208.1 634.4C209.4 634.4 210.6 635.0 211.0 636.0Z" fill="none" stroke="#999" stroke-width="0.4"/>
<path d="M188.0 636.0C188.8 633.8 191.2 633.8 193.6 633.8C198.4 633.8 202.4 634.7 204.0 636.0Z" fill="#161616" stroke="#0a0a0a" stroke-width="0.6"/>
<circle cx="216.1" cy="608.8" r="0.8" fill="#0a0a0a"/>
<rect x="166.0" y="584.3" width="67.1" height="52.2" fill="none" stroke="#0a0a0a" stroke-width="1.3"/>
<path d="M193.2 584.3V636.5M166.0 618.0999999999999H233.1" stroke="#0a0a0a" stroke-width="1.3" fill="none"/>
<text x="166.3" y="643.0" text-anchor="middle" font-family='"Liberation Sans", sans-serif' font-weight="bold" font-size="4" stroke="#0a0a0a" stroke-width="0.5">10<tspan dy="-1.6" font-size="3.2">0</tspan></text>
<text transform="translate(163.0,637.3) rotate(-90)" text-anchor="middle" font-family='"Liberation Sans", sans-serif' font-weight="bold" font-size="4" stroke="#0a0a0a" stroke-width="0.5">10<tspan dy="-1.6" font-size="3.2">0</tspan></text>
<text x="183.1" y="643.0" text-anchor="middle" font-family='"Liberation Sans", sans-serif' font-weight="bold" font-size="4" stroke="#0a0a0a" stroke-width="0.5">10<tspan dy="-1.6" font-size="3.2">1</tspan></text>
<text transform="translate(163.0,624.2) rotate(-90)" text-anchor="middle" font-family='"Liberation Sans", sans-serif' font-weight="bold" font-size="4" stroke="#0a0a0a" stroke-width="0.5">10<tspan dy="-1.6" font-size="3.2">1</tspan></text>
<text x="199.9" y="643.0" text-anchor="middle" font-family='"Liberation Sans", sans-serif' font-weight="bold" font-size="4" stroke="#0a0a0a" stroke-width="0.5">10<tspan dy="-1.6" font-size="3.2">2</tspan></text>
<text transform="translate(163.0,611.2) rotate(-90)" text-anchor="middle" font-family='"Liberation Sans", sans-serif' font-weight="bold" font-size="4" stroke="#0a0a0a" stroke-width="0.5">10<tspan dy="-1.6" font-size="3.2">2</tspan></text>
<text x="216.6" y="643.0" text-anchor="middle" font-family='"Liberation Sans", sans-serif' font-weight="bold" font-size="4" stroke="#0a0a0a" stroke-width="0.5">10<tspan dy="-1.6" font-size="3.2">3</tspan></text>
<text transform="translate(163.0,598.1) rotate(-90)" text-anchor="middle" font-family='"Liberation Sans", sans-serif' font-weight="bold" font-size="4" stroke="#0a0a0a" stroke-width="0.5">10<tspan dy="-1.6" font-size="3.2">3</tspan></text>
<text x="233.4" y="643.0" text-anchor="middle" font-family='"Liberation Sans", sans-serif' font-weight="bold" font-size="4" stroke="#0a0a0a" stroke-width="0.5">10<tspan dy="-1.6" font-size="3.2">4</tspan></text>
<text transform="translate(163.0,585.1) rotate(-90)" text-anchor="middle" font-family='"Liberation Sans", sans-serif' font-weight="bold" font-size="4" stroke="#0a0a0a" stroke-width="0.5">10<tspan dy="-1.6" font-size="3.2">4</tspan></text>
<path d="M166.0 636.5V639.1M163.4 636.5H166.0M182.8 636.5V639.1M163.4 623.5H166.0M199.6 636.5V639.1M163.4 610.4H166.0M216.3 636.5V639.1M163.4 597.4H166.0M233.1 636.5V639.1M163.4 584.3H166.0" stroke="#0a0a0a" stroke-width="1.2"/>
<text transform="translate(229.2,595.9) scale(0.8,1)" text-anchor="end" font-family='"Liberation Sans", sans-serif' font-weight="bold" font-size="10" stroke="#0a0a0a" stroke-width="0.4">1%</text>
<text transform="translate(233.2,629.8) scale(0.8,1)" text-anchor="end" font-family='"Liberation Sans", sans-serif' font-weight="bold" font-size="10" stroke="#0a0a0a" stroke-width="0.4">34%</text>
<path d="M260.5 564.7C261.0 558.9 263.0 557.5 265.5 557.5L294.6 557.5C298.6 557.5 302.1 561.1 303.6 564.7Z" fill="none" stroke="#0a0a0a" stroke-width="0.8"/>
<path d="M262.1 564.7C262.6 560.1 264.6 558.9 267.1 558.9L292.6 558.9C296.6 558.9 300.1 561.8 301.6 564.7Z" fill="none" stroke="#0a0a0a" stroke-width="0.8"/>
<path d="M263.6 564.7C264.1 561.3 266.1 560.5 268.6 560.5L290.6 560.5C294.6 560.5 298.1 562.6 299.6 564.7Z" fill="none" stroke="#0a0a0a" stroke-width="0.8"/>
<path d="M279.6 564.7C280.1 559.6 282.1 558.3 284.6 558.3L293.1 558.3C297.1 558.3 300.6 561.5 302.1 564.7Z" fill="#111" stroke="#0a0a0a" stroke-width="0.6"/>
<path d="M264.6 564.7C265.1 562.6 267.1 562.1 269.6 562.1L276.6 562.1C280.6 562.1 284.1 563.4 285.6 564.7Z" fill="#111" stroke="#0a0a0a" stroke-width="0.6"/>
<circle cx="305.2" cy="537.9" r="0.7" fill="#0a0a0a"/>
<rect x="255.6" y="512.9" width="66.5" height="52.3" fill="none" stroke="#0a0a0a" stroke-width="1.3"/>
<path d="M282.7 512.9V565.1999999999999M255.6 546.8H322.1" stroke="#0a0a0a" stroke-width="1.3" fill="none"/>
<text x="255.9" y="571.7" text-anchor="middle" font-family='"Liberation Sans", sans-serif' font-weight="bold" font-size="4" stroke="#0a0a0a" stroke-width="0.5">10<tspan dy="-1.6" font-size="3.2">0</tspan></text>
<text transform="translate(252.6,566.0) rotate(-90)" text-anchor="middle" font-family='"Liberation Sans", sans-serif' font-weight="bold" font-size="4" stroke="#0a0a0a" stroke-width="0.5">10<tspan dy="-1.6" font-size="3.2">0</tspan></text>
<text x="272.5" y="571.7" text-anchor="middle" font-family='"Liberation Sans", sans-serif' font-weight="bold" font-size="4" stroke="#0a0a0a" stroke-width="0.5">10<tspan dy="-1.6" font-size="3.2">1</tspan></text>
<text transform="translate(252.6,552.9) rotate(-90)" text-anchor="middle" font-family='"Liberation Sans", sans-serif' font-weight="bold" font-size="4" stroke="#0a0a0a" stroke-width="0.5">10<tspan dy="-1.6" font-size="3.2">1</tspan></text>
<text x="289.2" y="571.7" text-anchor="middle" font-family='"Liberation Sans", sans-serif' font-weight="bold" font-size="4" stroke="#0a0a0a" stroke-width="0.5">10<tspan dy="-1.6" font-size="3.2">2</tspan></text>
<text transform="translate(252.6,539.8) rotate(-90)" text-anchor="middle" font-family='"Liberation Sans", sans-serif' font-weight="bold" font-size="4" stroke="#0a0a0a" stroke-width="0.5">10<tspan dy="-1.6" font-size="3.2">2</tspan></text>
<text x="305.8" y="571.7" text-anchor="middle" font-family='"Liberation Sans", sans-serif' font-weight="bold" font-size="4" stroke="#0a0a0a" stroke-width="0.5">10<tspan dy="-1.6" font-size="3.2">3</tspan></text>
<text transform="translate(252.6,526.8) rotate(-90)" text-anchor="middle" font-family='"Liberation Sans", sans-serif' font-weight="bold" font-size="4" stroke="#0a0a0a" stroke-width="0.5">10<tspan dy="-1.6" font-size="3.2">3</tspan></text>
<text x="322.4" y="571.7" text-anchor="middle" font-family='"Liberation Sans", sans-serif' font-weight="bold" font-size="4" stroke="#0a0a0a" stroke-width="0.5">10<tspan dy="-1.6" font-size="3.2">4</tspan></text>
<text transform="translate(252.6,513.7) rotate(-90)" text-anchor="middle" font-family='"Liberation Sans", sans-serif' font-weight="bold" font-size="4" stroke="#0a0a0a" stroke-width="0.5">10<tspan dy="-1.6" font-size="3.2">4</tspan></text>
<path d="M255.6 565.1999999999999V567.8M253.0 565.2H255.6M272.2 565.1999999999999V567.8M253.0 552.1H255.6M288.9 565.1999999999999V567.8M253.0 539.0H255.6M305.5 565.1999999999999V567.8M253.0 526.0H255.6M322.1 565.1999999999999V567.8M253.0 512.9H255.6" stroke="#0a0a0a" stroke-width="1.2"/>
<text transform="translate(316.6,524) scale(0.8,1)" text-anchor="end" font-family='"Liberation Sans", sans-serif' font-weight="bold" font-size="10" stroke="#0a0a0a" stroke-width="0.4">1%</text>
<text transform="translate(320,557.3) scale(0.8,1)" text-anchor="end" font-family='"Liberation Sans", sans-serif' font-weight="bold" font-size="10" stroke="#0a0a0a" stroke-width="0.4">60%</text>
<path d="M285.6 636.0C286.2 633.8 288.0 633.8 289.8 633.8C293.4 633.8 296.4 634.7 297.6 636.0Z" fill="#161616" stroke="#0a0a0a" stroke-width="0.6"/>
<ellipse cx="301.9" cy="611.9" rx="4.6" ry="2.8" fill="#111" stroke="#0a0a0a" stroke-width="0.6"/><ellipse cx="302.2" cy="612.0999999999999" rx="5.6" ry="3.5" fill="none" stroke="#0a0a0a" stroke-width="0.6"/><path d="M295.6 635.8L297.6 629.3L298.8 621.3L300.4 629.3L302.6 635.8Z" fill="#111" stroke="#0a0a0a" stroke-width="0.8"/>
<rect x="255.6" y="584.3" width="66.5" height="52.2" fill="none" stroke="#0a0a0a" stroke-width="1.3"/>
<path d="M282.7 584.3V636.5M255.6 618.0999999999999H322.1" stroke="#0a0a0a" stroke-width="1.3" fill="none"/>
<text x="255.9" y="643.0" text-anchor="middle" font-family='"Liberation Sans", sans-serif' font-weight="bold" font-size="4" stroke="#0a0a0a" stroke-width="0.5">10<tspan dy="-1.6" font-size="3.2">0</tspan></text>
<text transform="translate(252.6,637.3) rotate(-90)" text-anchor="middle" font-family='"Liberation Sans", sans-serif' font-weight="bold" font-size="4" stroke="#0a0a0a" stroke-width="0.5">10<tspan dy="-1.6" font-size="3.2">0</tspan></text>
<text x="272.5" y="643.0" text-anchor="middle" font-family='"Liberation Sans", sans-serif' font-weight="bold" font-size="4" stroke="#0a0a0a" stroke-width="0.5">10<tspan dy="-1.6" font-size="3.2">1</tspan></text>
<text transform="translate(252.6,624.2) rotate(-90)" text-anchor="middle" font-family='"Liberation Sans", sans-serif' font-weight="bold" font-size="4" stroke="#0a0a0a" stroke-width="0.5">10<tspan dy="-1.6" font-size="3.2">1</tspan></text>
<text x="289.2" y="643.0" text-anchor="middle" font-family='"Liberation Sans", sans-serif' font-weight="bold" font-size="4" stroke="#0a0a0a" stroke-width="0.5">10<tspan dy="-1.6" font-size="3.2">2</tspan></text>
<text transform="translate(252.6,611.2) rotate(-90)" text-anchor="middle" font-family='"Liberation Sans", sans-serif' font-weight="bold" font-size="4" stroke="#0a0a0a" stroke-width="0.5">10<tspan dy="-1.6" font-size="3.2">2</tspan></text>
<text x="305.8" y="643.0" text-anchor="middle" font-family='"Liberation Sans", sans-serif' font-weight="bold" font-size="4" stroke="#0a0a0a" stroke-width="0.5">10<tspan dy="-1.6" font-size="3.2">3</tspan></text>
<text transform="translate(252.6,598.1) rotate(-90)" text-anchor="middle" font-family='"Liberation Sans", sans-serif' font-weight="bold" font-size="4" stroke="#0a0a0a" stroke-width="0.5">10<tspan dy="-1.6" font-size="3.2">3</tspan></text>
<text x="322.4" y="643.0" text-anchor="middle" font-family='"Liberation Sans", sans-serif' font-weight="bold" font-size="4" stroke="#0a0a0a" stroke-width="0.5">10<tspan dy="-1.6" font-size="3.2">4</tspan></text>
<text transform="translate(252.6,585.1) rotate(-90)" text-anchor="middle" font-family='"Liberation Sans", sans-serif' font-weight="bold" font-size="4" stroke="#0a0a0a" stroke-width="0.5">10<tspan dy="-1.6" font-size="3.2">4</tspan></text>
<path d="M255.6 636.5V639.1M253.0 636.5H255.6M272.2 636.5V639.1M253.0 623.5H255.6M288.9 636.5V639.1M253.0 610.4H255.6M305.5 636.5V639.1M253.0 597.4H255.6M322.1 636.5V639.1M253.0 584.3H255.6" stroke="#0a0a0a" stroke-width="1.2"/>
<text transform="translate(321,596.1) scale(0.8,1)" text-anchor="end" font-family='"Liberation Sans", sans-serif' font-weight="bold" font-size="10" stroke="#0a0a0a" stroke-width="0.4">35%</text>
<text transform="translate(321,629.5) scale(0.8,1)" text-anchor="end" font-family='"Liberation Sans", sans-serif' font-weight="bold" font-size="10" stroke="#0a0a0a" stroke-width="0.4">65%</text>
<path d="M353.7 564.7C354.2 559.5 356.2 558.2 358.7 558.2L385.1 558.2C389.1 558.2 392.6 561.4 394.1 564.7Z" fill="none" stroke="#0a0a0a" stroke-width="0.8"/>
<path d="M355.5 564.7C356.0 560.5 358.0 559.5 360.5 559.5L383.0 559.5C387.0 559.5 390.5 562.1 392.0 564.7Z" fill="none" stroke="#0a0a0a" stroke-width="0.8"/>
<path d="M357.0 564.7C357.5 557.5 359.0 557.5 360.5 557.5C363.5 557.5 366.0 560.4 367.0 564.7Z" fill="none" stroke="#0a0a0a" stroke-width="0.7"/>
<path d="M357.0 564.7C357.5 561.8 359.5 561.1 362.0 561.1L381.0 561.1C385.0 561.1 388.5 562.9 390.0 564.7Z" fill="none" stroke="#0a0a0a" stroke-width="0.8"/>
<path d="M369.0 564.7C369.5 560.1 371.5 558.9 374.0 558.9L383.5 558.9C387.5 558.9 391.0 561.8 392.5 564.7Z" fill="#111" stroke="#0a0a0a" stroke-width="0.6"/>
<path d="M358.0 564.7C358.5 562.9 360.5 562.5 363.0 562.5L368.0 562.5C372.0 562.5 375.5 563.6 377.0 564.7Z" fill="#111" stroke="#0a0a0a" stroke-width="0.6"/>
<ellipse cx="398.8" cy="540.1" rx="1.7" ry="2.6" fill="none" stroke="#0a0a0a" stroke-width="1.4" transform="rotate(-25 398.8 540.1)"/>
<rect x="347.0" y="512.9" width="68.3" height="52.3" fill="none" stroke="#0a0a0a" stroke-width="1.3"/>
<path d="M375.1 512.9V565.1999999999999M347.0 546.8H415.3" stroke="#0a0a0a" stroke-width="1.3" fill="none"/>
<text x="347.3" y="571.7" text-anchor="middle" font-family='"Liberation Sans", sans-serif' font-weight="bold" font-size="4" stroke="#0a0a0a" stroke-width="0.5">10<tspan dy="-1.6" font-size="3.2">0</tspan></text>
<text transform="translate(344.0,566.0) rotate(-90)" text-anchor="middle" font-family='"Liberation Sans", sans-serif' font-weight="bold" font-size="4" stroke="#0a0a0a" stroke-width="0.5">10<tspan dy="-1.6" font-size="3.2">0</tspan></text>
<text x="364.4" y="571.7" text-anchor="middle" font-family='"Liberation Sans", sans-serif' font-weight="bold" font-size="4" stroke="#0a0a0a" stroke-width="0.5">10<tspan dy="-1.6" font-size="3.2">1</tspan></text>
<text transform="translate(344.0,552.9) rotate(-90)" text-anchor="middle" font-family='"Liberation Sans", sans-serif' font-weight="bold" font-size="4" stroke="#0a0a0a" stroke-width="0.5">10<tspan dy="-1.6" font-size="3.2">1</tspan></text>
<text x="381.4" y="571.7" text-anchor="middle" font-family='"Liberation Sans", sans-serif' font-weight="bold" font-size="4" stroke="#0a0a0a" stroke-width="0.5">10<tspan dy="-1.6" font-size="3.2">2</tspan></text>
<text transform="translate(344.0,539.8) rotate(-90)" text-anchor="middle" font-family='"Liberation Sans", sans-serif' font-weight="bold" font-size="4" stroke="#0a0a0a" stroke-width="0.5">10<tspan dy="-1.6" font-size="3.2">2</tspan></text>
<text x="398.5" y="571.7" text-anchor="middle" font-family='"Liberation Sans", sans-serif' font-weight="bold" font-size="4" stroke="#0a0a0a" stroke-width="0.5">10<tspan dy="-1.6" font-size="3.2">3</tspan></text>
<text transform="translate(344.0,526.8) rotate(-90)" text-anchor="middle" font-family='"Liberation Sans", sans-serif' font-weight="bold" font-size="4" stroke="#0a0a0a" stroke-width="0.5">10<tspan dy="-1.6" font-size="3.2">3</tspan></text>
<text x="415.6" y="571.7" text-anchor="middle" font-family='"Liberation Sans", sans-serif' font-weight="bold" font-size="4" stroke="#0a0a0a" stroke-width="0.5">10<tspan dy="-1.6" font-size="3.2">4</tspan></text>
<text transform="translate(344.0,513.7) rotate(-90)" text-anchor="middle" font-family='"Liberation Sans", sans-serif' font-weight="bold" font-size="4" stroke="#0a0a0a" stroke-width="0.5">10<tspan dy="-1.6" font-size="3.2">4</tspan></text>
<path d="M347.0 565.1999999999999V567.8M344.4 565.2H347.0M364.1 565.1999999999999V567.8M344.4 552.1H347.0M381.1 565.1999999999999V567.8M344.4 539.0H347.0M398.2 565.1999999999999V567.8M344.4 526.0H347.0M415.3 565.1999999999999V567.8M344.4 512.9H347.0" stroke="#0a0a0a" stroke-width="1.2"/>
<text transform="translate(407.8,523.4) scale(0.8,1)" text-anchor="end" font-family='"Liberation Sans", sans-serif' font-weight="bold" font-size="10" stroke="#0a0a0a" stroke-width="0.4">4%</text>
<text transform="translate(411,557.0) scale(0.8,1)" text-anchor="end" font-family='"Liberation Sans", sans-serif' font-weight="bold" font-size="10" stroke="#0a0a0a" stroke-width="0.4">71%</text>
<ellipse cx="391.6" cy="611.6999999999999" rx="4.8" ry="2.7" fill="#111" stroke="#0a0a0a" stroke-width="0.6"/><ellipse cx="391.6" cy="611.9" rx="5.8" ry="3.4" fill="none" stroke="#0a0a0a" stroke-width="0.6"/><path d="M385.5 635.8L387.5 630.3L388.5 616.3L394.5 616.3L395.2 630.3L397.5 635.8Z" fill="#fff" stroke="#0a0a0a" stroke-width="0.8"/><path d="M387.5 635.8L389.5 628.3L390.4 619.3L392.0 619.3L393.0 628.3L395.0 635.8Z" fill="#111"/>
<rect x="347.0" y="584.3" width="68.3" height="52.2" fill="none" stroke="#0a0a0a" stroke-width="1.3"/>
<path d="M375.1 584.3V636.5M347.0 618.0999999999999H415.3" stroke="#0a0a0a" stroke-width="1.3" fill="none"/>
<text x="347.3" y="643.0" text-anchor="middle" font-family='"Liberation Sans", sans-serif' font-weight="bold" font-size="4" stroke="#0a0a0a" stroke-width="0.5">10<tspan dy="-1.6" font-size="3.2">0</tspan></text>
<text transform="translate(344.0,637.3) rotate(-90)" text-anchor="middle" font-family='"Liberation Sans", sans-serif' font-weight="bold" font-size="4" stroke="#0a0a0a" stroke-width="0.5">10<tspan dy="-1.6" font-size="3.2">0</tspan></text>
<text x="364.4" y="643.0" text-anchor="middle" font-family='"Liberation Sans", sans-serif' font-weight="bold" font-size="4" stroke="#0a0a0a" stroke-width="0.5">10<tspan dy="-1.6" font-size="3.2">1</tspan></text>
<text transform="translate(344.0,624.2) rotate(-90)" text-anchor="middle" font-family='"Liberation Sans", sans-serif' font-weight="bold" font-size="4" stroke="#0a0a0a" stroke-width="0.5">10<tspan dy="-1.6" font-size="3.2">1</tspan></text>
<text x="381.4" y="643.0" text-anchor="middle" font-family='"Liberation Sans", sans-serif' font-weight="bold" font-size="4" stroke="#0a0a0a" stroke-width="0.5">10<tspan dy="-1.6" font-size="3.2">2</tspan></text>
<text transform="translate(344.0,611.2) rotate(-90)" text-anchor="middle" font-family='"Liberation Sans", sans-serif' font-weight="bold" font-size="4" stroke="#0a0a0a" stroke-width="0.5">10<tspan dy="-1.6" font-size="3.2">2</tspan></text>
<text x="398.5" y="643.0" text-anchor="middle" font-family='"Liberation Sans", sans-serif' font-weight="bold" font-size="4" stroke="#0a0a0a" stroke-width="0.5">10<tspan dy="-1.6" font-size="3.2">3</tspan></text>
<text transform="translate(344.0,598.1) rotate(-90)" text-anchor="middle" font-family='"Liberation Sans", sans-serif' font-weight="bold" font-size="4" stroke="#0a0a0a" stroke-width="0.5">10<tspan dy="-1.6" font-size="3.2">3</tspan></text>
<text x="415.6" y="643.0" text-anchor="middle" font-family='"Liberation Sans", sans-serif' font-weight="bold" font-size="4" stroke="#0a0a0a" stroke-width="0.5">10<tspan dy="-1.6" font-size="3.2">4</tspan></text>
<text transform="translate(344.0,585.1) rotate(-90)" text-anchor="middle" font-family='"Liberation Sans", sans-serif' font-weight="bold" font-size="4" stroke="#0a0a0a" stroke-width="0.5">10<tspan dy="-1.6" font-size="3.2">4</tspan></text>
<path d="M347.0 636.5V639.1M344.4 636.5H347.0M364.1 636.5V639.1M344.4 623.5H347.0M381.1 636.5V639.1M344.4 610.4H347.0M398.2 636.5V639.1M344.4 597.4H347.0M415.3 636.5V639.1M344.4 584.3H347.0" stroke="#0a0a0a" stroke-width="1.2"/>
<text transform="translate(412.4,595.9) scale(0.8,1)" text-anchor="end" font-family='"Liberation Sans", sans-serif' font-weight="bold" font-size="10" stroke="#0a0a0a" stroke-width="0.4">38%</text>
<text transform="translate(412.4,629.8) scale(0.8,1)" text-anchor="end" font-family='"Liberation Sans", sans-serif' font-weight="bold" font-size="10" stroke="#0a0a0a" stroke-width="0.4">61%</text>
<path d="M450.7 564.7C451.2 558.5 453.2 556.9 455.7 556.9L462.7 556.9C466.7 556.9 470.2 560.8 471.7 564.7Z" fill="none" stroke="#0a0a0a" stroke-width="0.8"/>
<path d="M452.3 564.7C452.8 559.3 454.8 557.9 457.3 557.9L459.6 557.9C463.6 557.9 467.1 561.3 468.6 564.7Z" fill="#161616" stroke="#0a0a0a" stroke-width="0.6"/>
<path d="M454.5 564.7C455.0 561.3 457.0 560.5 459.5 560.5L456.1 560.5C460.1 560.5 463.6 562.6 465.1 564.7Z" fill="none" stroke="#bbb" stroke-width="0.45"/>
<path d="M456.8 564.7C457.3 563.1 459.3 562.7 461.8 562.7L452.6 562.7C456.6 562.7 460.1 563.7 461.6 564.7Z" fill="none" stroke="#999" stroke-width="0.4"/>
<path d="M485.4 564.7C485.9 561.7 487.3 561.7 488.8 561.7C491.7 561.7 494.1 562.9 495.1 564.7Z" fill="#161616" stroke="#0a0a0a" stroke-width="0.6"/>

<rect x="448.1" y="512.9" width="67.8" height="52.3" fill="none" stroke="#0a0a0a" stroke-width="1.3"/>
<path d="M475.5 512.9V565.1999999999999M448.1 546.8H515.9" stroke="#0a0a0a" stroke-width="1.3" fill="none"/>
<text x="448.4" y="571.7" text-anchor="middle" font-family='"Liberation Sans", sans-serif' font-weight="bold" font-size="4" stroke="#0a0a0a" stroke-width="0.5">10<tspan dy="-1.6" font-size="3.2">0</tspan></text>
<text transform="translate(445.1,566.0) rotate(-90)" text-anchor="middle" font-family='"Liberation Sans", sans-serif' font-weight="bold" font-size="4" stroke="#0a0a0a" stroke-width="0.5">10<tspan dy="-1.6" font-size="3.2">0</tspan></text>
<text x="465.4" y="571.7" text-anchor="middle" font-family='"Liberation Sans", sans-serif' font-weight="bold" font-size="4" stroke="#0a0a0a" stroke-width="0.5">10<tspan dy="-1.6" font-size="3.2">1</tspan></text>
<text transform="translate(445.1,552.9) rotate(-90)" text-anchor="middle" font-family='"Liberation Sans", sans-serif' font-weight="bold" font-size="4" stroke="#0a0a0a" stroke-width="0.5">10<tspan dy="-1.6" font-size="3.2">1</tspan></text>
<text x="482.3" y="571.7" text-anchor="middle" font-family='"Liberation Sans", sans-serif' font-weight="bold" font-size="4" stroke="#0a0a0a" stroke-width="0.5">10<tspan dy="-1.6" font-size="3.2">2</tspan></text>
<text transform="translate(445.1,539.8) rotate(-90)" text-anchor="middle" font-family='"Liberation Sans", sans-serif' font-weight="bold" font-size="4" stroke="#0a0a0a" stroke-width="0.5">10<tspan dy="-1.6" font-size="3.2">2</tspan></text>
<text x="499.3" y="571.7" text-anchor="middle" font-family='"Liberation Sans", sans-serif' font-weight="bold" font-size="4" stroke="#0a0a0a" stroke-width="0.5">10<tspan dy="-1.6" font-size="3.2">3</tspan></text>
<text transform="translate(445.1,526.8) rotate(-90)" text-anchor="middle" font-family='"Liberation Sans", sans-serif' font-weight="bold" font-size="4" stroke="#0a0a0a" stroke-width="0.5">10<tspan dy="-1.6" font-size="3.2">3</tspan></text>
<text x="516.2" y="571.7" text-anchor="middle" font-family='"Liberation Sans", sans-serif' font-weight="bold" font-size="4" stroke="#0a0a0a" stroke-width="0.5">10<tspan dy="-1.6" font-size="3.2">4</tspan></text>
<text transform="translate(445.1,513.7) rotate(-90)" text-anchor="middle" font-family='"Liberation Sans", sans-serif' font-weight="bold" font-size="4" stroke="#0a0a0a" stroke-width="0.5">10<tspan dy="-1.6" font-size="3.2">4</tspan></text>
<path d="M448.1 565.1999999999999V567.8M445.5 565.2H448.1M465.1 565.1999999999999V567.8M445.5 552.1H448.1M482.0 565.1999999999999V567.8M445.5 539.0H448.1M499.0 565.1999999999999V567.8M445.5 526.0H448.1M515.9 565.1999999999999V567.8M445.5 512.9H448.1" stroke="#0a0a0a" stroke-width="1.2"/>
<text transform="translate(511.4,524.2) scale(0.8,1)" text-anchor="end" font-family='"Liberation Sans", sans-serif' font-weight="bold" font-size="10" stroke="#0a0a0a" stroke-width="0.4">0%</text>
<text transform="translate(511.4,556.0) scale(0.8,1)" text-anchor="end" font-family='"Liberation Sans", sans-serif' font-weight="bold" font-size="10" stroke="#0a0a0a" stroke-width="0.4">4%</text>
<path d="M448.6 636.0C449.1 629.1 451.1 627.4 453.6 627.4L469.6 627.4C473.6 627.4 477.1 631.7 478.6 636.0Z" fill="none" stroke="#0a0a0a" stroke-width="0.8"/>
<path d="M451.1 636.0C451.6 630.2 453.6 628.8 456.1 628.8L465.6 628.8C469.6 628.8 473.1 632.4 474.6 636.0Z" fill="#161616" stroke="#0a0a0a" stroke-width="0.6"/>
<path d="M453.3 636.0C453.8 632.4 455.8 631.5 458.3 631.5L462.1 631.5C466.1 631.5 469.6 633.8 471.1 636.0Z" fill="none" stroke="#bbb" stroke-width="0.45"/>
<path d="M455.6 636.0C456.1 634.3 458.1 633.8 460.6 633.8L458.6 633.8C462.6 633.8 466.1 634.9 467.6 636.0Z" fill="none" stroke="#999" stroke-width="0.4"/>
<path d="M484.1 636.0C485.0 630.4 487.5 630.4 490.1 630.4C495.2 630.4 499.4 632.6 501.1 636.0Z" fill="none" stroke="#0a0a0a" stroke-width="0.7"/>
<path d="M487.1 636.0C487.7 632.2 489.4 632.2 491.1 632.2C494.6 632.2 497.5 633.7 498.6 636.0Z" fill="#161616" stroke="#0a0a0a" stroke-width="0.6"/>
<path d="M474.1 636.0C474.8 633.8 476.9 633.8 479.0 633.8C483.2 633.8 486.7 634.7 488.1 636.0Z" fill="#161616" stroke="#0a0a0a" stroke-width="0.6"/>

<rect x="448.1" y="584.3" width="67.8" height="52.2" fill="none" stroke="#0a0a0a" stroke-width="1.3"/>
<path d="M475.5 584.3V636.5M448.1 618.0999999999999H515.9" stroke="#0a0a0a" stroke-width="1.3" fill="none"/>
<text x="448.4" y="643.0" text-anchor="middle" font-family='"Liberation Sans", sans-serif' font-weight="bold" font-size="4" stroke="#0a0a0a" stroke-width="0.5">10<tspan dy="-1.6" font-size="3.2">0</tspan></text>
<text transform="translate(445.1,637.3) rotate(-90)" text-anchor="middle" font-family='"Liberation Sans", sans-serif' font-weight="bold" font-size="4" stroke="#0a0a0a" stroke-width="0.5">10<tspan dy="-1.6" font-size="3.2">0</tspan></text>
<text x="465.4" y="643.0" text-anchor="middle" font-family='"Liberation Sans", sans-serif' font-weight="bold" font-size="4" stroke="#0a0a0a" stroke-width="0.5">10<tspan dy="-1.6" font-size="3.2">1</tspan></text>
<text transform="translate(445.1,624.2) rotate(-90)" text-anchor="middle" font-family='"Liberation Sans", sans-serif' font-weight="bold" font-size="4" stroke="#0a0a0a" stroke-width="0.5">10<tspan dy="-1.6" font-size="3.2">1</tspan></text>
<text x="482.3" y="643.0" text-anchor="middle" font-family='"Liberation Sans", sans-serif' font-weight="bold" font-size="4" stroke="#0a0a0a" stroke-width="0.5">10<tspan dy="-1.6" font-size="3.2">2</tspan></text>
<text transform="translate(445.1,611.2) rotate(-90)" text-anchor="middle" font-family='"Liberation Sans", sans-serif' font-weight="bold" font-size="4" stroke="#0a0a0a" stroke-width="0.5">10<tspan dy="-1.6" font-size="3.2">2</tspan></text>
<text x="499.3" y="643.0" text-anchor="middle" font-family='"Liberation Sans", sans-serif' font-weight="bold" font-size="4" stroke="#0a0a0a" stroke-width="0.5">10<tspan dy="-1.6" font-size="3.2">3</tspan></text>
<text transform="translate(445.1,598.1) rotate(-90)" text-anchor="middle" font-family='"Liberation Sans", sans-serif' font-weight="bold" font-size="4" stroke="#0a0a0a" stroke-width="0.5">10<tspan dy="-1.6" font-size="3.2">3</tspan></text>
<text x="516.2" y="643.0" text-anchor="middle" font-family='"Liberation Sans", sans-serif' font-weight="bold" font-size="4" stroke="#0a0a0a" stroke-width="0.5">10<tspan dy="-1.6" font-size="3.2">4</tspan></text>
<text transform="translate(445.1,585.1) rotate(-90)" text-anchor="middle" font-family='"Liberation Sans", sans-serif' font-weight="bold" font-size="4" stroke="#0a0a0a" stroke-width="0.5">10<tspan dy="-1.6" font-size="3.2">4</tspan></text>
<path d="M448.1 636.5V639.1M445.5 636.5H448.1M465.1 636.5V639.1M445.5 623.5H448.1M482.0 636.5V639.1M445.5 610.4H448.1M499.0 636.5V639.1M445.5 597.4H448.1M515.9 636.5V639.1M445.5 584.3H448.1" stroke="#0a0a0a" stroke-width="1.2"/>
<text transform="translate(511.4,595.9) scale(0.8,1)" text-anchor="end" font-family='"Liberation Sans", sans-serif' font-weight="bold" font-size="10" stroke="#0a0a0a" stroke-width="0.4">0%</text>
<text transform="translate(515,628.9) scale(0.8,1)" text-anchor="end" font-family='"Liberation Sans", sans-serif' font-weight="bold" font-size="10" stroke="#0a0a0a" stroke-width="0.4">18%</text>
</svg>
</body></html>
